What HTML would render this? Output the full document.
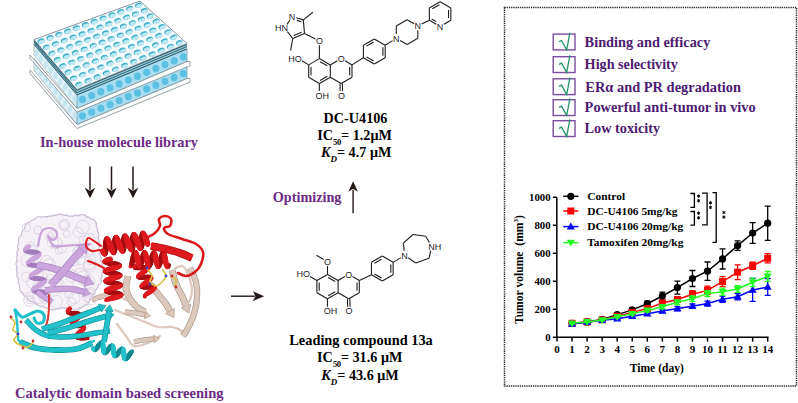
<!DOCTYPE html>
<html><head><meta charset="utf-8"><style>
html,body{margin:0;padding:0;background:#fff;overflow:hidden;}
svg{display:block;}
</style></head><body>
<svg width="798" height="403" viewBox="0 0 798 403">
<rect width="798" height="403" fill="#fff"/>
<polygon points="34.00,58.30 77.00,112.10 77.00,124.50 34.00,70.00" fill="#e2f3f9" stroke="#8a9aa0" stroke-width="0.6"/>
<polygon points="77.00,112.10 187.00,65.70 187.00,78.50 77.00,124.50" fill="#a9ddf1" stroke="#5a8a98" stroke-width="0.6"/>
<ellipse cx="82.50" cy="115.99" rx="3.5" ry="3.70" fill="#5cc0e2"/>
<ellipse cx="91.67" cy="112.14" rx="3.5" ry="3.70" fill="#5cc0e2"/>
<ellipse cx="100.83" cy="108.29" rx="3.5" ry="3.70" fill="#5cc0e2"/>
<ellipse cx="110.00" cy="104.44" rx="3.5" ry="3.70" fill="#5cc0e2"/>
<ellipse cx="119.17" cy="100.59" rx="3.5" ry="3.70" fill="#5cc0e2"/>
<ellipse cx="128.33" cy="96.74" rx="3.5" ry="3.70" fill="#5cc0e2"/>
<ellipse cx="137.50" cy="92.89" rx="3.5" ry="3.70" fill="#5cc0e2"/>
<ellipse cx="146.67" cy="89.04" rx="3.5" ry="3.70" fill="#5cc0e2"/>
<ellipse cx="155.83" cy="85.19" rx="3.5" ry="3.70" fill="#5cc0e2"/>
<ellipse cx="165.00" cy="81.34" rx="3.5" ry="3.70" fill="#5cc0e2"/>
<ellipse cx="174.17" cy="77.49" rx="3.5" ry="3.70" fill="#5cc0e2"/>
<ellipse cx="183.33" cy="73.64" rx="3.5" ry="3.70" fill="#5cc0e2"/>
<ellipse cx="36.39" cy="67.16" rx="2.2" ry="3.52" fill="#c4e6f2"/>
<ellipse cx="41.17" cy="73.17" rx="2.2" ry="3.54" fill="#c4e6f2"/>
<ellipse cx="45.94" cy="79.19" rx="2.2" ry="3.57" fill="#c4e6f2"/>
<ellipse cx="50.72" cy="85.21" rx="2.2" ry="3.59" fill="#c4e6f2"/>
<ellipse cx="55.50" cy="91.22" rx="2.2" ry="3.62" fill="#c4e6f2"/>
<ellipse cx="60.28" cy="97.24" rx="2.2" ry="3.64" fill="#c4e6f2"/>
<ellipse cx="65.06" cy="103.26" rx="2.2" ry="3.66" fill="#c4e6f2"/>
<ellipse cx="69.83" cy="109.28" rx="2.2" ry="3.69" fill="#c4e6f2"/>
<ellipse cx="74.61" cy="115.29" rx="2.2" ry="3.71" fill="#c4e6f2"/>
<polygon points="34.00,44.50 77.00,95.10 77.00,108.50 34.00,55.00" fill="#e2f3f9" stroke="#8a9aa0" stroke-width="0.6"/>
<polygon points="77.00,95.10 187.00,49.10 187.00,61.50 77.00,108.50" fill="#a9ddf1" stroke="#5a8a98" stroke-width="0.6"/>
<ellipse cx="82.50" cy="99.47" rx="3.5" ry="3.70" fill="#5cc0e2"/>
<ellipse cx="91.67" cy="95.60" rx="3.5" ry="3.70" fill="#5cc0e2"/>
<ellipse cx="100.83" cy="91.72" rx="3.5" ry="3.70" fill="#5cc0e2"/>
<ellipse cx="110.00" cy="87.85" rx="3.5" ry="3.70" fill="#5cc0e2"/>
<ellipse cx="119.17" cy="83.97" rx="3.5" ry="3.70" fill="#5cc0e2"/>
<ellipse cx="128.33" cy="80.10" rx="3.5" ry="3.70" fill="#5cc0e2"/>
<ellipse cx="137.50" cy="76.22" rx="3.5" ry="3.70" fill="#5cc0e2"/>
<ellipse cx="146.67" cy="72.35" rx="3.5" ry="3.70" fill="#5cc0e2"/>
<ellipse cx="155.83" cy="68.47" rx="3.5" ry="3.70" fill="#5cc0e2"/>
<ellipse cx="165.00" cy="64.60" rx="3.5" ry="3.70" fill="#5cc0e2"/>
<ellipse cx="174.17" cy="60.73" rx="3.5" ry="3.70" fill="#5cc0e2"/>
<ellipse cx="183.33" cy="56.85" rx="3.5" ry="3.70" fill="#5cc0e2"/>
<ellipse cx="36.39" cy="52.64" rx="2.2" ry="3.20" fill="#c4e6f2"/>
<ellipse cx="41.17" cy="58.42" rx="2.2" ry="3.30" fill="#c4e6f2"/>
<ellipse cx="45.94" cy="64.21" rx="2.2" ry="3.39" fill="#c4e6f2"/>
<ellipse cx="50.72" cy="69.99" rx="2.2" ry="3.49" fill="#c4e6f2"/>
<ellipse cx="55.50" cy="75.78" rx="2.2" ry="3.59" fill="#c4e6f2"/>
<ellipse cx="60.28" cy="81.56" rx="2.2" ry="3.68" fill="#c4e6f2"/>
<ellipse cx="65.06" cy="87.34" rx="2.2" ry="3.78" fill="#c4e6f2"/>
<ellipse cx="69.83" cy="93.12" rx="2.2" ry="3.88" fill="#c4e6f2"/>
<ellipse cx="74.61" cy="98.91" rx="2.2" ry="3.97" fill="#c4e6f2"/>
<polygon points="30.00,55.00 77.00,108.50 187.00,61.50 190.00,61.50 190.00,65.70 77.00,112.10 30.00,58.30" fill="#fcfdfd" stroke="#6f7f86" stroke-width="0.7"/>
<polygon points="30.00,70.00 77.00,124.50 187.00,78.50 190.00,78.50 190.00,82.10 77.00,128.50 30.00,73.50" fill="#fcfdfd" stroke="#6f7f86" stroke-width="0.7"/>
<polygon points="34.00,39.50 77.00,89.50 187.00,43.50 187.00,49.10 77.00,95.10 34.00,44.50" fill="#9fd2e2"/>
<polyline points="34.00,40.05 77.00,90.12 187.00,44.12" fill="none" stroke="#2c5866" stroke-width="1.2"/>
<polyline points="34.00,42.20 77.00,92.52 187.00,46.52" fill="none" stroke="#336e80" stroke-width="1.1"/>
<polyline points="34.00,44.25 77.00,94.82 187.00,48.82" fill="none" stroke="#2c5866" stroke-width="1.0"/>
<polygon points="34.00,39.50 140.00,1.00 187.00,43.50 77.00,89.50" fill="#f3fbfd" stroke="#6d7f86" stroke-width="0.8"/>
<g transform="translate(41.11,41.00) rotate(-20)"><ellipse rx="3.6" ry="2.55" fill="#3fb0ca"/><ellipse cx="0.25" cy="0.85" rx="3.2" ry="1.75" fill="#bfe8f5"/></g>
<g transform="translate(46.51,47.21) rotate(-20)"><ellipse rx="3.6" ry="2.55" fill="#3fb0ca"/><ellipse cx="0.25" cy="0.85" rx="3.2" ry="1.75" fill="#bfe8f5"/></g>
<g transform="translate(51.91,53.42) rotate(-20)"><ellipse rx="3.6" ry="2.55" fill="#3fb0ca"/><ellipse cx="0.25" cy="0.85" rx="3.2" ry="1.75" fill="#bfe8f5"/></g>
<g transform="translate(57.30,59.63) rotate(-20)"><ellipse rx="3.6" ry="2.55" fill="#3fb0ca"/><ellipse cx="0.25" cy="0.85" rx="3.2" ry="1.75" fill="#bfe8f5"/></g>
<g transform="translate(62.70,65.85) rotate(-20)"><ellipse rx="3.6" ry="2.55" fill="#3fb0ca"/><ellipse cx="0.25" cy="0.85" rx="3.2" ry="1.75" fill="#bfe8f5"/></g>
<g transform="translate(68.09,72.06) rotate(-20)"><ellipse rx="3.6" ry="2.55" fill="#3fb0ca"/><ellipse cx="0.25" cy="0.85" rx="3.2" ry="1.75" fill="#bfe8f5"/></g>
<g transform="translate(73.49,78.27) rotate(-20)"><ellipse rx="3.6" ry="2.55" fill="#3fb0ca"/><ellipse cx="0.25" cy="0.85" rx="3.2" ry="1.75" fill="#bfe8f5"/></g>
<g transform="translate(78.89,84.48) rotate(-20)"><ellipse rx="3.6" ry="2.55" fill="#3fb0ca"/><ellipse cx="0.25" cy="0.85" rx="3.2" ry="1.75" fill="#bfe8f5"/></g>
<g transform="translate(49.97,37.75) rotate(-20)"><ellipse rx="3.6" ry="2.55" fill="#3fb0ca"/><ellipse cx="0.25" cy="0.85" rx="3.2" ry="1.75" fill="#bfe8f5"/></g>
<g transform="translate(55.41,43.89) rotate(-20)"><ellipse rx="3.6" ry="2.55" fill="#3fb0ca"/><ellipse cx="0.25" cy="0.85" rx="3.2" ry="1.75" fill="#bfe8f5"/></g>
<g transform="translate(60.84,50.02) rotate(-20)"><ellipse rx="3.6" ry="2.55" fill="#3fb0ca"/><ellipse cx="0.25" cy="0.85" rx="3.2" ry="1.75" fill="#bfe8f5"/></g>
<g transform="translate(66.28,56.15) rotate(-20)"><ellipse rx="3.6" ry="2.55" fill="#3fb0ca"/><ellipse cx="0.25" cy="0.85" rx="3.2" ry="1.75" fill="#bfe8f5"/></g>
<g transform="translate(71.72,62.29) rotate(-20)"><ellipse rx="3.6" ry="2.55" fill="#3fb0ca"/><ellipse cx="0.25" cy="0.85" rx="3.2" ry="1.75" fill="#bfe8f5"/></g>
<g transform="translate(77.16,68.42) rotate(-20)"><ellipse rx="3.6" ry="2.55" fill="#3fb0ca"/><ellipse cx="0.25" cy="0.85" rx="3.2" ry="1.75" fill="#bfe8f5"/></g>
<g transform="translate(82.59,74.55) rotate(-20)"><ellipse rx="3.6" ry="2.55" fill="#3fb0ca"/><ellipse cx="0.25" cy="0.85" rx="3.2" ry="1.75" fill="#bfe8f5"/></g>
<g transform="translate(88.03,80.68) rotate(-20)"><ellipse rx="3.6" ry="2.55" fill="#3fb0ca"/><ellipse cx="0.25" cy="0.85" rx="3.2" ry="1.75" fill="#bfe8f5"/></g>
<g transform="translate(58.82,34.51) rotate(-20)"><ellipse rx="3.6" ry="2.55" fill="#3fb0ca"/><ellipse cx="0.25" cy="0.85" rx="3.2" ry="1.75" fill="#bfe8f5"/></g>
<g transform="translate(64.30,40.56) rotate(-20)"><ellipse rx="3.6" ry="2.55" fill="#3fb0ca"/><ellipse cx="0.25" cy="0.85" rx="3.2" ry="1.75" fill="#bfe8f5"/></g>
<g transform="translate(69.78,46.62) rotate(-20)"><ellipse rx="3.6" ry="2.55" fill="#3fb0ca"/><ellipse cx="0.25" cy="0.85" rx="3.2" ry="1.75" fill="#bfe8f5"/></g>
<g transform="translate(75.26,52.67) rotate(-20)"><ellipse rx="3.6" ry="2.55" fill="#3fb0ca"/><ellipse cx="0.25" cy="0.85" rx="3.2" ry="1.75" fill="#bfe8f5"/></g>
<g transform="translate(80.74,58.73) rotate(-20)"><ellipse rx="3.6" ry="2.55" fill="#3fb0ca"/><ellipse cx="0.25" cy="0.85" rx="3.2" ry="1.75" fill="#bfe8f5"/></g>
<g transform="translate(86.22,64.78) rotate(-20)"><ellipse rx="3.6" ry="2.55" fill="#3fb0ca"/><ellipse cx="0.25" cy="0.85" rx="3.2" ry="1.75" fill="#bfe8f5"/></g>
<g transform="translate(91.70,70.83) rotate(-20)"><ellipse rx="3.6" ry="2.55" fill="#3fb0ca"/><ellipse cx="0.25" cy="0.85" rx="3.2" ry="1.75" fill="#bfe8f5"/></g>
<g transform="translate(97.18,76.89) rotate(-20)"><ellipse rx="3.6" ry="2.55" fill="#3fb0ca"/><ellipse cx="0.25" cy="0.85" rx="3.2" ry="1.75" fill="#bfe8f5"/></g>
<g transform="translate(67.68,31.26) rotate(-20)"><ellipse rx="3.6" ry="2.55" fill="#3fb0ca"/><ellipse cx="0.25" cy="0.85" rx="3.2" ry="1.75" fill="#bfe8f5"/></g>
<g transform="translate(73.20,37.24) rotate(-20)"><ellipse rx="3.6" ry="2.55" fill="#3fb0ca"/><ellipse cx="0.25" cy="0.85" rx="3.2" ry="1.75" fill="#bfe8f5"/></g>
<g transform="translate(78.72,43.21) rotate(-20)"><ellipse rx="3.6" ry="2.55" fill="#3fb0ca"/><ellipse cx="0.25" cy="0.85" rx="3.2" ry="1.75" fill="#bfe8f5"/></g>
<g transform="translate(84.24,49.19) rotate(-20)"><ellipse rx="3.6" ry="2.55" fill="#3fb0ca"/><ellipse cx="0.25" cy="0.85" rx="3.2" ry="1.75" fill="#bfe8f5"/></g>
<g transform="translate(89.76,55.17) rotate(-20)"><ellipse rx="3.6" ry="2.55" fill="#3fb0ca"/><ellipse cx="0.25" cy="0.85" rx="3.2" ry="1.75" fill="#bfe8f5"/></g>
<g transform="translate(95.28,61.14) rotate(-20)"><ellipse rx="3.6" ry="2.55" fill="#3fb0ca"/><ellipse cx="0.25" cy="0.85" rx="3.2" ry="1.75" fill="#bfe8f5"/></g>
<g transform="translate(100.80,67.12) rotate(-20)"><ellipse rx="3.6" ry="2.55" fill="#3fb0ca"/><ellipse cx="0.25" cy="0.85" rx="3.2" ry="1.75" fill="#bfe8f5"/></g>
<g transform="translate(106.32,73.10) rotate(-20)"><ellipse rx="3.6" ry="2.55" fill="#3fb0ca"/><ellipse cx="0.25" cy="0.85" rx="3.2" ry="1.75" fill="#bfe8f5"/></g>
<g transform="translate(76.53,28.01) rotate(-20)"><ellipse rx="3.6" ry="2.55" fill="#3fb0ca"/><ellipse cx="0.25" cy="0.85" rx="3.2" ry="1.75" fill="#bfe8f5"/></g>
<g transform="translate(82.09,33.91) rotate(-20)"><ellipse rx="3.6" ry="2.55" fill="#3fb0ca"/><ellipse cx="0.25" cy="0.85" rx="3.2" ry="1.75" fill="#bfe8f5"/></g>
<g transform="translate(87.66,39.81) rotate(-20)"><ellipse rx="3.6" ry="2.55" fill="#3fb0ca"/><ellipse cx="0.25" cy="0.85" rx="3.2" ry="1.75" fill="#bfe8f5"/></g>
<g transform="translate(93.22,45.71) rotate(-20)"><ellipse rx="3.6" ry="2.55" fill="#3fb0ca"/><ellipse cx="0.25" cy="0.85" rx="3.2" ry="1.75" fill="#bfe8f5"/></g>
<g transform="translate(98.78,51.61) rotate(-20)"><ellipse rx="3.6" ry="2.55" fill="#3fb0ca"/><ellipse cx="0.25" cy="0.85" rx="3.2" ry="1.75" fill="#bfe8f5"/></g>
<g transform="translate(104.34,57.50) rotate(-20)"><ellipse rx="3.6" ry="2.55" fill="#3fb0ca"/><ellipse cx="0.25" cy="0.85" rx="3.2" ry="1.75" fill="#bfe8f5"/></g>
<g transform="translate(109.91,63.40) rotate(-20)"><ellipse rx="3.6" ry="2.55" fill="#3fb0ca"/><ellipse cx="0.25" cy="0.85" rx="3.2" ry="1.75" fill="#bfe8f5"/></g>
<g transform="translate(115.47,69.30) rotate(-20)"><ellipse rx="3.6" ry="2.55" fill="#3fb0ca"/><ellipse cx="0.25" cy="0.85" rx="3.2" ry="1.75" fill="#bfe8f5"/></g>
<g transform="translate(85.39,24.76) rotate(-20)"><ellipse rx="3.6" ry="2.55" fill="#3fb0ca"/><ellipse cx="0.25" cy="0.85" rx="3.2" ry="1.75" fill="#bfe8f5"/></g>
<g transform="translate(90.99,30.58) rotate(-20)"><ellipse rx="3.6" ry="2.55" fill="#3fb0ca"/><ellipse cx="0.25" cy="0.85" rx="3.2" ry="1.75" fill="#bfe8f5"/></g>
<g transform="translate(96.59,36.40) rotate(-20)"><ellipse rx="3.6" ry="2.55" fill="#3fb0ca"/><ellipse cx="0.25" cy="0.85" rx="3.2" ry="1.75" fill="#bfe8f5"/></g>
<g transform="translate(102.20,42.23) rotate(-20)"><ellipse rx="3.6" ry="2.55" fill="#3fb0ca"/><ellipse cx="0.25" cy="0.85" rx="3.2" ry="1.75" fill="#bfe8f5"/></g>
<g transform="translate(107.80,48.05) rotate(-20)"><ellipse rx="3.6" ry="2.55" fill="#3fb0ca"/><ellipse cx="0.25" cy="0.85" rx="3.2" ry="1.75" fill="#bfe8f5"/></g>
<g transform="translate(113.41,53.87) rotate(-20)"><ellipse rx="3.6" ry="2.55" fill="#3fb0ca"/><ellipse cx="0.25" cy="0.85" rx="3.2" ry="1.75" fill="#bfe8f5"/></g>
<g transform="translate(119.01,59.69) rotate(-20)"><ellipse rx="3.6" ry="2.55" fill="#3fb0ca"/><ellipse cx="0.25" cy="0.85" rx="3.2" ry="1.75" fill="#bfe8f5"/></g>
<g transform="translate(124.61,65.51) rotate(-20)"><ellipse rx="3.6" ry="2.55" fill="#3fb0ca"/><ellipse cx="0.25" cy="0.85" rx="3.2" ry="1.75" fill="#bfe8f5"/></g>
<g transform="translate(94.24,21.52) rotate(-20)"><ellipse rx="3.6" ry="2.55" fill="#3fb0ca"/><ellipse cx="0.25" cy="0.85" rx="3.2" ry="1.75" fill="#bfe8f5"/></g>
<g transform="translate(99.89,27.26) rotate(-20)"><ellipse rx="3.6" ry="2.55" fill="#3fb0ca"/><ellipse cx="0.25" cy="0.85" rx="3.2" ry="1.75" fill="#bfe8f5"/></g>
<g transform="translate(105.53,33.00) rotate(-20)"><ellipse rx="3.6" ry="2.55" fill="#3fb0ca"/><ellipse cx="0.25" cy="0.85" rx="3.2" ry="1.75" fill="#bfe8f5"/></g>
<g transform="translate(111.18,38.74) rotate(-20)"><ellipse rx="3.6" ry="2.55" fill="#3fb0ca"/><ellipse cx="0.25" cy="0.85" rx="3.2" ry="1.75" fill="#bfe8f5"/></g>
<g transform="translate(116.82,44.49) rotate(-20)"><ellipse rx="3.6" ry="2.55" fill="#3fb0ca"/><ellipse cx="0.25" cy="0.85" rx="3.2" ry="1.75" fill="#bfe8f5"/></g>
<g transform="translate(122.47,50.23) rotate(-20)"><ellipse rx="3.6" ry="2.55" fill="#3fb0ca"/><ellipse cx="0.25" cy="0.85" rx="3.2" ry="1.75" fill="#bfe8f5"/></g>
<g transform="translate(128.11,55.97) rotate(-20)"><ellipse rx="3.6" ry="2.55" fill="#3fb0ca"/><ellipse cx="0.25" cy="0.85" rx="3.2" ry="1.75" fill="#bfe8f5"/></g>
<g transform="translate(133.76,61.71) rotate(-20)"><ellipse rx="3.6" ry="2.55" fill="#3fb0ca"/><ellipse cx="0.25" cy="0.85" rx="3.2" ry="1.75" fill="#bfe8f5"/></g>
<g transform="translate(103.09,18.27) rotate(-20)"><ellipse rx="3.6" ry="2.55" fill="#3fb0ca"/><ellipse cx="0.25" cy="0.85" rx="3.2" ry="1.75" fill="#bfe8f5"/></g>
<g transform="translate(108.78,23.93) rotate(-20)"><ellipse rx="3.6" ry="2.55" fill="#3fb0ca"/><ellipse cx="0.25" cy="0.85" rx="3.2" ry="1.75" fill="#bfe8f5"/></g>
<g transform="translate(114.47,29.60) rotate(-20)"><ellipse rx="3.6" ry="2.55" fill="#3fb0ca"/><ellipse cx="0.25" cy="0.85" rx="3.2" ry="1.75" fill="#bfe8f5"/></g>
<g transform="translate(120.16,35.26) rotate(-20)"><ellipse rx="3.6" ry="2.55" fill="#3fb0ca"/><ellipse cx="0.25" cy="0.85" rx="3.2" ry="1.75" fill="#bfe8f5"/></g>
<g transform="translate(125.84,40.93) rotate(-20)"><ellipse rx="3.6" ry="2.55" fill="#3fb0ca"/><ellipse cx="0.25" cy="0.85" rx="3.2" ry="1.75" fill="#bfe8f5"/></g>
<g transform="translate(131.53,46.59) rotate(-20)"><ellipse rx="3.6" ry="2.55" fill="#3fb0ca"/><ellipse cx="0.25" cy="0.85" rx="3.2" ry="1.75" fill="#bfe8f5"/></g>
<g transform="translate(137.22,52.25) rotate(-20)"><ellipse rx="3.6" ry="2.55" fill="#3fb0ca"/><ellipse cx="0.25" cy="0.85" rx="3.2" ry="1.75" fill="#bfe8f5"/></g>
<g transform="translate(142.91,57.92) rotate(-20)"><ellipse rx="3.6" ry="2.55" fill="#3fb0ca"/><ellipse cx="0.25" cy="0.85" rx="3.2" ry="1.75" fill="#bfe8f5"/></g>
<g transform="translate(111.95,15.02) rotate(-20)"><ellipse rx="3.6" ry="2.55" fill="#3fb0ca"/><ellipse cx="0.25" cy="0.85" rx="3.2" ry="1.75" fill="#bfe8f5"/></g>
<g transform="translate(117.68,20.61) rotate(-20)"><ellipse rx="3.6" ry="2.55" fill="#3fb0ca"/><ellipse cx="0.25" cy="0.85" rx="3.2" ry="1.75" fill="#bfe8f5"/></g>
<g transform="translate(123.41,26.19) rotate(-20)"><ellipse rx="3.6" ry="2.55" fill="#3fb0ca"/><ellipse cx="0.25" cy="0.85" rx="3.2" ry="1.75" fill="#bfe8f5"/></g>
<g transform="translate(129.14,31.78) rotate(-20)"><ellipse rx="3.6" ry="2.55" fill="#3fb0ca"/><ellipse cx="0.25" cy="0.85" rx="3.2" ry="1.75" fill="#bfe8f5"/></g>
<g transform="translate(134.86,37.37) rotate(-20)"><ellipse rx="3.6" ry="2.55" fill="#3fb0ca"/><ellipse cx="0.25" cy="0.85" rx="3.2" ry="1.75" fill="#bfe8f5"/></g>
<g transform="translate(140.59,42.95) rotate(-20)"><ellipse rx="3.6" ry="2.55" fill="#3fb0ca"/><ellipse cx="0.25" cy="0.85" rx="3.2" ry="1.75" fill="#bfe8f5"/></g>
<g transform="translate(146.32,48.54) rotate(-20)"><ellipse rx="3.6" ry="2.55" fill="#3fb0ca"/><ellipse cx="0.25" cy="0.85" rx="3.2" ry="1.75" fill="#bfe8f5"/></g>
<g transform="translate(152.05,54.12) rotate(-20)"><ellipse rx="3.6" ry="2.55" fill="#3fb0ca"/><ellipse cx="0.25" cy="0.85" rx="3.2" ry="1.75" fill="#bfe8f5"/></g>
<g transform="translate(120.80,11.77) rotate(-20)"><ellipse rx="3.6" ry="2.55" fill="#3fb0ca"/><ellipse cx="0.25" cy="0.85" rx="3.2" ry="1.75" fill="#bfe8f5"/></g>
<g transform="translate(126.57,17.28) rotate(-20)"><ellipse rx="3.6" ry="2.55" fill="#3fb0ca"/><ellipse cx="0.25" cy="0.85" rx="3.2" ry="1.75" fill="#bfe8f5"/></g>
<g transform="translate(132.34,22.79) rotate(-20)"><ellipse rx="3.6" ry="2.55" fill="#3fb0ca"/><ellipse cx="0.25" cy="0.85" rx="3.2" ry="1.75" fill="#bfe8f5"/></g>
<g transform="translate(138.11,28.30) rotate(-20)"><ellipse rx="3.6" ry="2.55" fill="#3fb0ca"/><ellipse cx="0.25" cy="0.85" rx="3.2" ry="1.75" fill="#bfe8f5"/></g>
<g transform="translate(143.89,33.81) rotate(-20)"><ellipse rx="3.6" ry="2.55" fill="#3fb0ca"/><ellipse cx="0.25" cy="0.85" rx="3.2" ry="1.75" fill="#bfe8f5"/></g>
<g transform="translate(149.66,39.31) rotate(-20)"><ellipse rx="3.6" ry="2.55" fill="#3fb0ca"/><ellipse cx="0.25" cy="0.85" rx="3.2" ry="1.75" fill="#bfe8f5"/></g>
<g transform="translate(155.43,44.82) rotate(-20)"><ellipse rx="3.6" ry="2.55" fill="#3fb0ca"/><ellipse cx="0.25" cy="0.85" rx="3.2" ry="1.75" fill="#bfe8f5"/></g>
<g transform="translate(161.20,50.33) rotate(-20)"><ellipse rx="3.6" ry="2.55" fill="#3fb0ca"/><ellipse cx="0.25" cy="0.85" rx="3.2" ry="1.75" fill="#bfe8f5"/></g>
<g transform="translate(129.66,8.53) rotate(-20)"><ellipse rx="3.6" ry="2.55" fill="#3fb0ca"/><ellipse cx="0.25" cy="0.85" rx="3.2" ry="1.75" fill="#bfe8f5"/></g>
<g transform="translate(135.47,13.96) rotate(-20)"><ellipse rx="3.6" ry="2.55" fill="#3fb0ca"/><ellipse cx="0.25" cy="0.85" rx="3.2" ry="1.75" fill="#bfe8f5"/></g>
<g transform="translate(141.28,19.39) rotate(-20)"><ellipse rx="3.6" ry="2.55" fill="#3fb0ca"/><ellipse cx="0.25" cy="0.85" rx="3.2" ry="1.75" fill="#bfe8f5"/></g>
<g transform="translate(147.09,24.82) rotate(-20)"><ellipse rx="3.6" ry="2.55" fill="#3fb0ca"/><ellipse cx="0.25" cy="0.85" rx="3.2" ry="1.75" fill="#bfe8f5"/></g>
<g transform="translate(152.91,30.25) rotate(-20)"><ellipse rx="3.6" ry="2.55" fill="#3fb0ca"/><ellipse cx="0.25" cy="0.85" rx="3.2" ry="1.75" fill="#bfe8f5"/></g>
<g transform="translate(158.72,35.68) rotate(-20)"><ellipse rx="3.6" ry="2.55" fill="#3fb0ca"/><ellipse cx="0.25" cy="0.85" rx="3.2" ry="1.75" fill="#bfe8f5"/></g>
<g transform="translate(164.53,41.11) rotate(-20)"><ellipse rx="3.6" ry="2.55" fill="#3fb0ca"/><ellipse cx="0.25" cy="0.85" rx="3.2" ry="1.75" fill="#bfe8f5"/></g>
<g transform="translate(170.34,46.54) rotate(-20)"><ellipse rx="3.6" ry="2.55" fill="#3fb0ca"/><ellipse cx="0.25" cy="0.85" rx="3.2" ry="1.75" fill="#bfe8f5"/></g>
<g transform="translate(138.51,5.28) rotate(-20)"><ellipse rx="3.6" ry="2.55" fill="#3fb0ca"/><ellipse cx="0.25" cy="0.85" rx="3.2" ry="1.75" fill="#bfe8f5"/></g>
<g transform="translate(144.36,10.63) rotate(-20)"><ellipse rx="3.6" ry="2.55" fill="#3fb0ca"/><ellipse cx="0.25" cy="0.85" rx="3.2" ry="1.75" fill="#bfe8f5"/></g>
<g transform="translate(150.22,15.98) rotate(-20)"><ellipse rx="3.6" ry="2.55" fill="#3fb0ca"/><ellipse cx="0.25" cy="0.85" rx="3.2" ry="1.75" fill="#bfe8f5"/></g>
<g transform="translate(156.07,21.33) rotate(-20)"><ellipse rx="3.6" ry="2.55" fill="#3fb0ca"/><ellipse cx="0.25" cy="0.85" rx="3.2" ry="1.75" fill="#bfe8f5"/></g>
<g transform="translate(161.93,26.69) rotate(-20)"><ellipse rx="3.6" ry="2.55" fill="#3fb0ca"/><ellipse cx="0.25" cy="0.85" rx="3.2" ry="1.75" fill="#bfe8f5"/></g>
<g transform="translate(167.78,32.04) rotate(-20)"><ellipse rx="3.6" ry="2.55" fill="#3fb0ca"/><ellipse cx="0.25" cy="0.85" rx="3.2" ry="1.75" fill="#bfe8f5"/></g>
<g transform="translate(173.64,37.39) rotate(-20)"><ellipse rx="3.6" ry="2.55" fill="#3fb0ca"/><ellipse cx="0.25" cy="0.85" rx="3.2" ry="1.75" fill="#bfe8f5"/></g>
<g transform="translate(179.49,42.74) rotate(-20)"><ellipse rx="3.6" ry="2.55" fill="#3fb0ca"/><ellipse cx="0.25" cy="0.85" rx="3.2" ry="1.75" fill="#bfe8f5"/></g>
<text x="40" y="147" font-size="13.7" fill="#6c2a86" text-anchor="start" textLength="158" lengthAdjust="spacingAndGlyphs" style="font-family:'Liberation Serif',serif;font-weight:bold" >In-house molecule library</text>
<line x1="90" y1="166.5" x2="90" y2="189.8" stroke="#231815" stroke-width="1.5"/>
<path d="M90,198.3 L84.8,187.8 L90,190.8 L95.2,187.8Z" fill="#231815"/>
<line x1="111.5" y1="166.5" x2="111.5" y2="189.8" stroke="#231815" stroke-width="1.5"/>
<path d="M111.5,198.3 L106.3,187.8 L111.5,190.8 L116.7,187.8Z" fill="#231815"/>
<line x1="133" y1="166.5" x2="133" y2="189.8" stroke="#231815" stroke-width="1.5"/>
<path d="M133,198.3 L127.8,187.8 L133,190.8 L138.2,187.8Z" fill="#231815"/>
<path d="M117.00,324.00 C118.50,326.00 123.17,332.33 126.00,336.00 C128.83,339.67 130.33,344.83 134.00,346.00 C137.67,347.17 143.67,344.67 148.00,343.00 C152.33,341.33 158.00,337.17 160.00,336.00" fill="none" stroke="#dcc8bc" stroke-width="2.2" stroke-linecap="round" stroke-linejoin="round" opacity="1"/>
<path d="M115.00,310.00 C117.50,311.00 125.00,314.00 130.00,316.00 C135.00,318.00 140.33,320.17 145.00,322.00 C149.67,323.83 153.50,326.17 158.00,327.00 C162.50,327.83 168.33,326.50 172.00,327.00 C175.67,327.50 177.83,328.67 180.00,330.00 C182.17,331.33 184.17,334.17 185.00,335.00" fill="none" stroke="#dcc8bc" stroke-width="2.2" stroke-linecap="round" stroke-linejoin="round" opacity="1"/>
<path d="M128.00,276.00 C127.67,278.00 125.67,284.17 126.00,288.00 C126.33,291.83 128.00,295.67 130.00,299.00 C132.00,302.33 135.50,305.83 138.00,308.00 C140.50,310.17 143.83,311.33 145.00,312.00" fill="none" stroke="#a89080" stroke-width="6.7" stroke-linecap="butt" stroke-linejoin="round" opacity="1"/>
<path d="M128.00,276.00 C127.67,278.00 125.67,284.17 126.00,288.00 C126.33,291.83 128.00,295.67 130.00,299.00 C132.00,302.33 135.50,305.83 138.00,308.00 C140.50,310.17 143.83,311.33 145.00,312.00" fill="none" stroke="#dcc8bc" stroke-width="5.5" stroke-linecap="butt" stroke-linejoin="round" opacity="1"/>
<path d="M150.00,284.00 C151.33,285.67 155.33,290.67 158.00,294.00 C160.67,297.33 164.00,301.17 166.00,304.00 C168.00,306.83 169.33,309.83 170.00,311.00" fill="none" stroke="#a89080" stroke-width="6.7" stroke-linecap="butt" stroke-linejoin="round" opacity="1"/>
<path d="M150.00,284.00 C151.33,285.67 155.33,290.67 158.00,294.00 C160.67,297.33 164.00,301.17 166.00,304.00 C168.00,306.83 169.33,309.83 170.00,311.00" fill="none" stroke="#dcc8bc" stroke-width="5.5" stroke-linecap="butt" stroke-linejoin="round" opacity="1"/>
<path d="M165.46,313.59 L173.82,317.69 L174.54,308.41Z" fill="#dcc8bc" stroke="#a89080" stroke-width="0.6" opacity="1"/>
<path d="M172.00,270.00 C172.67,272.33 174.33,279.67 176.00,284.00 C177.67,288.33 180.33,292.33 182.00,296.00 C183.67,299.67 185.33,304.33 186.00,306.00" fill="none" stroke="#a89080" stroke-width="6.7" stroke-linecap="butt" stroke-linejoin="round" opacity="1"/>
<path d="M172.00,270.00 C172.67,272.33 174.33,279.67 176.00,284.00 C177.67,288.33 180.33,292.33 182.00,296.00 C183.67,299.67 185.33,304.33 186.00,306.00" fill="none" stroke="#dcc8bc" stroke-width="5.5" stroke-linecap="butt" stroke-linejoin="round" opacity="1"/>
<path d="M181.15,307.94 L188.86,313.15 L190.85,304.06Z" fill="#dcc8bc" stroke="#a89080" stroke-width="0.6" opacity="1"/>
<path d="M186.00,306.00 C186.67,305.00 189.00,302.67 190.00,300.00 C191.00,297.33 192.00,293.33 192.00,290.00 C192.00,286.67 191.00,283.33 190.00,280.00 C189.00,276.67 187.33,272.33 186.00,270.00 C184.67,267.67 183.67,266.33 182.00,266.00 C180.33,265.67 177.67,267.00 176.00,268.00 C174.33,269.00 172.67,271.33 172.00,272.00" fill="none" stroke="#dcc8bc" stroke-width="2.2" stroke-linecap="round" stroke-linejoin="round" opacity="1"/>
<path d="M190.00,268.00 C191.00,270.33 194.83,277.00 196.00,282.00 C197.17,287.00 197.33,292.67 197.00,298.00 C196.67,303.33 195.50,309.00 194.00,314.00 C192.50,319.00 189.83,324.33 188.00,328.00 C186.17,331.67 183.83,334.67 183.00,336.00" fill="none" stroke="#a89080" stroke-width="6.2" stroke-linecap="butt" stroke-linejoin="round" opacity="1"/>
<path d="M190.00,268.00 C191.00,270.33 194.83,277.00 196.00,282.00 C197.17,287.00 197.33,292.67 197.00,298.00 C196.67,303.33 195.50,309.00 194.00,314.00 C192.50,319.00 189.83,324.33 188.00,328.00 C186.17,331.67 183.83,334.67 183.00,336.00" fill="none" stroke="#dcc8bc" stroke-width="5.0" stroke-linecap="butt" stroke-linejoin="round" opacity="1"/>
<path d="M125.00,312.00 C126.67,312.17 131.67,312.50 135.00,313.00 C138.33,313.50 143.33,314.67 145.00,315.00" fill="none" stroke="#a89080" stroke-width="5.2" stroke-linecap="butt" stroke-linejoin="round" opacity="1"/>
<path d="M125.00,312.00 C126.67,312.17 131.67,312.50 135.00,313.00 C138.33,313.50 143.33,314.67 145.00,315.00" fill="none" stroke="#dcc8bc" stroke-width="4.0" stroke-linecap="butt" stroke-linejoin="round" opacity="1"/>
<path d="M144.25,318.73 L150.49,316.10 L145.75,311.27Z" fill="#dcc8bc" stroke="#a89080" stroke-width="0.6" opacity="1"/>
<path d="M134.00,342.00 C135.67,341.67 140.67,340.50 144.00,340.00 C147.33,339.50 152.33,339.17 154.00,339.00" fill="none" stroke="#a89080" stroke-width="5.2" stroke-linecap="butt" stroke-linejoin="round" opacity="1"/>
<path d="M134.00,342.00 C135.67,341.67 140.67,340.50 144.00,340.00 C147.33,339.50 152.33,339.17 154.00,339.00" fill="none" stroke="#dcc8bc" stroke-width="4.0" stroke-linecap="butt" stroke-linejoin="round" opacity="1"/>
<path d="M154.38,342.78 L159.57,338.44 L153.62,335.22Z" fill="#dcc8bc" stroke="#a89080" stroke-width="0.6" opacity="1"/>
<path d="M108.00,296.00 C109.67,296.00 115.00,295.33 118.00,296.00 C121.00,296.67 124.67,299.33 126.00,300.00" fill="none" stroke="#dcc8bc" stroke-width="2.2" stroke-linecap="round" stroke-linejoin="round" opacity="1"/>
<path d="M92.00,300.00 C94.00,299.33 100.00,296.50 104.00,296.00 C108.00,295.50 114.00,296.83 116.00,297.00" fill="none" stroke="#a89080" stroke-width="5.2" stroke-linecap="butt" stroke-linejoin="round" opacity="1"/>
<path d="M92.00,300.00 C94.00,299.33 100.00,296.50 104.00,296.00 C108.00,295.50 114.00,296.83 116.00,297.00" fill="none" stroke="#dcc8bc" stroke-width="4.0" stroke-linecap="butt" stroke-linejoin="round" opacity="1"/>
<g fill="#f5f1f7" stroke="#cdbfd5" stroke-width="1.3">
<circle cx="22.3" cy="252.8" r="5.4"/>
<circle cx="23.3" cy="246.5" r="5.6"/>
<circle cx="24.6" cy="240.4" r="6.3"/>
<circle cx="27.0" cy="233.8" r="5.4"/>
<circle cx="30.2" cy="227.7" r="5.5"/>
<circle cx="34.9" cy="225.1" r="5.7"/>
<circle cx="39.2" cy="221.6" r="4.9"/>
<circle cx="45.1" cy="221.9" r="5.5"/>
<circle cx="50.7" cy="221.7" r="5.8"/>
<circle cx="55.3" cy="221.1" r="6.1"/>
<circle cx="59.9" cy="218.7" r="4.7"/>
<circle cx="65.5" cy="220.1" r="5.1"/>
<circle cx="71.2" cy="220.6" r="4.7"/>
<circle cx="76.3" cy="221.3" r="6.1"/>
<circle cx="82.1" cy="220.4" r="5.9"/>
<circle cx="87.0" cy="221.6" r="4.6"/>
<circle cx="90.1" cy="225.4" r="6.5"/>
<circle cx="91.3" cy="230.5" r="6.4"/>
<circle cx="93.0" cy="235.3" r="5.8"/>
<circle cx="93.3" cy="241.4" r="5.7"/>
<circle cx="94.4" cy="247.1" r="4.8"/>
<circle cx="95.5" cy="252.6" r="4.5"/>
<circle cx="95.5" cy="258.3" r="5.6"/>
<circle cx="97.4" cy="263.9" r="4.6"/>
<circle cx="98.2" cy="269.5" r="4.9"/>
<circle cx="97.2" cy="275.1" r="5.0"/>
<circle cx="96.7" cy="280.9" r="4.6"/>
<circle cx="92.7" cy="285.6" r="5.4"/>
<circle cx="89.5" cy="290.7" r="5.4"/>
<circle cx="86.3" cy="294.8" r="6.2"/>
<circle cx="84.0" cy="300.1" r="5.5"/>
<circle cx="79.2" cy="302.2" r="5.8"/>
<circle cx="74.7" cy="304.7" r="5.5"/>
<circle cx="69.0" cy="303.3" r="5.8"/>
<circle cx="63.5" cy="302.6" r="5.4"/>
<circle cx="58.0" cy="303.9" r="5.1"/>
<circle cx="52.6" cy="303.5" r="6.5"/>
<circle cx="47.2" cy="301.7" r="6.5"/>
<circle cx="41.6" cy="300.2" r="6.2"/>
<circle cx="37.0" cy="298.1" r="5.9"/>
<circle cx="31.9" cy="296.5" r="5.1"/>
<circle cx="28.1" cy="292.4" r="5.0"/>
<circle cx="24.4" cy="288.1" r="5.1"/>
<circle cx="22.8" cy="281.7" r="4.6"/>
<circle cx="22.8" cy="274.6" r="6.0"/>
<circle cx="21.7" cy="269.3" r="5.3"/>
<circle cx="22.2" cy="263.8" r="6.2"/>
<circle cx="21.8" cy="258.3" r="5.3"/>
</g>
<path d="M19.00,252.00 C19.50,247.67 19.50,242.50 21.00,238.00 C22.50,233.50 25.17,228.17 28.00,225.00 C30.83,221.83 34.33,220.17 38.00,219.00 C41.67,217.83 46.33,218.50 50.00,218.00 C53.67,217.50 56.33,216.00 60.00,216.00 C63.67,216.00 68.00,217.83 72.00,218.00 C76.00,218.17 80.50,216.33 84.00,217.00 C87.50,217.67 91.00,219.33 93.00,222.00 C95.00,224.67 95.33,229.00 96.00,233.00 C96.67,237.00 96.50,241.83 97.00,246.00 C97.50,250.17 98.33,254.00 99.00,258.00 C99.67,262.00 101.00,266.00 101.00,270.00 C101.00,274.00 100.50,278.17 99.00,282.00 C97.50,285.83 94.17,289.50 92.00,293.00 C89.83,296.50 88.67,300.50 86.00,303.00 C83.33,305.50 79.67,307.50 76.00,308.00 C72.33,308.50 68.00,306.00 64.00,306.00 C60.00,306.00 56.00,308.33 52.00,308.00 C48.00,307.67 43.67,305.50 40.00,304.00 C36.33,302.50 33.00,301.33 30.00,299.00 C27.00,296.67 23.83,293.83 22.00,290.00 C20.17,286.17 19.67,280.33 19.00,276.00 C18.33,271.67 18.00,268.00 18.00,264.00 C18.00,260.00 18.50,256.33 19.00,252.00Z" fill="#f5f1f7" stroke="none"/>
<g fill="#f5f1f7" stroke="none">
<circle cx="22.3" cy="252.8" r="4.4"/>
<circle cx="23.3" cy="246.5" r="4.6"/>
<circle cx="24.6" cy="240.4" r="5.3"/>
<circle cx="27.0" cy="233.8" r="4.4"/>
<circle cx="30.2" cy="227.7" r="4.5"/>
<circle cx="34.9" cy="225.1" r="4.7"/>
<circle cx="39.2" cy="221.6" r="3.9"/>
<circle cx="45.1" cy="221.9" r="4.5"/>
<circle cx="50.7" cy="221.7" r="4.8"/>
<circle cx="55.3" cy="221.1" r="5.1"/>
<circle cx="59.9" cy="218.7" r="3.7"/>
<circle cx="65.5" cy="220.1" r="4.1"/>
<circle cx="71.2" cy="220.6" r="3.7"/>
<circle cx="76.3" cy="221.3" r="5.1"/>
<circle cx="82.1" cy="220.4" r="4.9"/>
<circle cx="87.0" cy="221.6" r="3.6"/>
<circle cx="90.1" cy="225.4" r="5.5"/>
<circle cx="91.3" cy="230.5" r="5.4"/>
<circle cx="93.0" cy="235.3" r="4.8"/>
<circle cx="93.3" cy="241.4" r="4.7"/>
<circle cx="94.4" cy="247.1" r="3.8"/>
<circle cx="95.5" cy="252.6" r="3.5"/>
<circle cx="95.5" cy="258.3" r="4.6"/>
<circle cx="97.4" cy="263.9" r="3.6"/>
<circle cx="98.2" cy="269.5" r="3.9"/>
<circle cx="97.2" cy="275.1" r="4.0"/>
<circle cx="96.7" cy="280.9" r="3.6"/>
<circle cx="92.7" cy="285.6" r="4.4"/>
<circle cx="89.5" cy="290.7" r="4.4"/>
<circle cx="86.3" cy="294.8" r="5.2"/>
<circle cx="84.0" cy="300.1" r="4.5"/>
<circle cx="79.2" cy="302.2" r="4.8"/>
<circle cx="74.7" cy="304.7" r="4.5"/>
<circle cx="69.0" cy="303.3" r="4.8"/>
<circle cx="63.5" cy="302.6" r="4.4"/>
<circle cx="58.0" cy="303.9" r="4.1"/>
<circle cx="52.6" cy="303.5" r="5.5"/>
<circle cx="47.2" cy="301.7" r="5.5"/>
<circle cx="41.6" cy="300.2" r="5.2"/>
<circle cx="37.0" cy="298.1" r="4.9"/>
<circle cx="31.9" cy="296.5" r="4.1"/>
<circle cx="28.1" cy="292.4" r="4.0"/>
<circle cx="24.4" cy="288.1" r="4.1"/>
<circle cx="22.8" cy="281.7" r="3.6"/>
<circle cx="22.8" cy="274.6" r="5.0"/>
<circle cx="21.7" cy="269.3" r="4.3"/>
<circle cx="22.2" cy="263.8" r="5.2"/>
<circle cx="21.8" cy="258.3" r="4.3"/>
</g>
<g fill="none" stroke="#dcd1e2" stroke-width="0.9">
<circle cx="67.1" cy="281.9" r="6.3"/>
<circle cx="88.2" cy="281.7" r="6.7"/>
<circle cx="27.9" cy="260.3" r="6.8"/>
<circle cx="68.8" cy="294.3" r="3.9"/>
<circle cx="57.0" cy="243.2" r="5.4"/>
<circle cx="63.9" cy="225.0" r="4.3"/>
<circle cx="44.4" cy="295.5" r="6.2"/>
<circle cx="36.5" cy="286.2" r="4.0"/>
<circle cx="66.8" cy="233.9" r="3.5"/>
<circle cx="83.5" cy="240.3" r="4.3"/>
<circle cx="90.8" cy="292.0" r="4.5"/>
<circle cx="89.5" cy="266.1" r="5.9"/>
<circle cx="39.5" cy="297.4" r="5.9"/>
<circle cx="89.8" cy="293.7" r="4.5"/>
<circle cx="49.8" cy="236.9" r="4.0"/>
<circle cx="30.3" cy="247.5" r="5.6"/>
<circle cx="26.2" cy="276.9" r="4.7"/>
<circle cx="46.5" cy="287.8" r="5.2"/>
<circle cx="46.8" cy="261.5" r="6.0"/>
<circle cx="29.8" cy="300.1" r="3.6"/>
<circle cx="75.5" cy="289.9" r="3.6"/>
<circle cx="78.0" cy="252.6" r="5.5"/>
<circle cx="26.6" cy="227.6" r="4.1"/>
<circle cx="89.0" cy="239.3" r="6.1"/>
<circle cx="87.4" cy="297.5" r="4.7"/>
<circle cx="49.4" cy="264.9" r="6.2"/>
<circle cx="33.1" cy="282.4" r="6.3"/>
<circle cx="82.7" cy="226.9" r="6.8"/>
<circle cx="32.0" cy="250.6" r="5.6"/>
<circle cx="86.6" cy="250.5" r="6.7"/>
<circle cx="62.0" cy="248.4" r="4.6"/>
<circle cx="37.7" cy="230.1" r="4.0"/>
<circle cx="71.5" cy="301.7" r="4.1"/>
<circle cx="29.2" cy="301.0" r="5.4"/>
<circle cx="52.8" cy="242.5" r="5.6"/>
<circle cx="80.5" cy="259.5" r="5.0"/>
<circle cx="29.7" cy="295.5" r="3.6"/>
<circle cx="58.6" cy="289.4" r="4.0"/>
<circle cx="74.3" cy="298.1" r="5.7"/>
<circle cx="78.0" cy="232.3" r="5.0"/>
<circle cx="35.9" cy="289.9" r="4.5"/>
<circle cx="55.9" cy="301.9" r="6.5"/>
<circle cx="90.4" cy="259.4" r="5.2"/>
<circle cx="74.1" cy="261.4" r="4.5"/>
<circle cx="52.7" cy="235.4" r="4.8"/>
<circle cx="91.2" cy="298.9" r="5.7"/>
<circle cx="59.0" cy="250.4" r="3.8"/>
<circle cx="44.0" cy="285.0" r="6.5"/>
<circle cx="49.8" cy="285.3" r="6.2"/>
<circle cx="71.8" cy="275.8" r="6.2"/>
<circle cx="50.0" cy="278.9" r="4.5"/>
<circle cx="58.1" cy="284.0" r="5.9"/>
<circle cx="45.4" cy="297.8" r="5.8"/>
<circle cx="64.3" cy="224.9" r="5.4"/>
<circle cx="42.5" cy="276.4" r="5.1"/>
<circle cx="79.9" cy="274.5" r="6.3"/>
<circle cx="49.0" cy="274.2" r="6.1"/>
<circle cx="80.7" cy="251.3" r="6.5"/>
<circle cx="83.4" cy="277.7" r="6.9"/>
<circle cx="89.1" cy="264.4" r="5.4"/>
</g>
<path d="M38.00,246.00 C38.33,244.33 39.17,238.67 40.00,236.00 C40.83,233.33 41.50,231.33 43.00,230.00 C44.50,228.67 47.00,228.00 49.00,228.00 C51.00,228.00 53.67,228.67 55.00,230.00 C56.33,231.33 57.33,234.33 57.00,236.00 C56.67,237.67 54.50,240.00 53.00,240.00 C51.50,240.00 48.17,235.33 48.00,236.00 C47.83,236.67 50.33,242.17 52.00,244.00 C53.67,245.83 57.00,246.50 58.00,247.00" fill="none" stroke="#cba5dc" stroke-width="2.2" stroke-linecap="round" stroke-linejoin="round" opacity="1"/>
<path d="M52.00,246.00 C54.00,246.00 60.00,246.17 64.00,246.00 C68.00,245.83 71.67,245.33 76.00,245.00 C80.33,244.67 87.67,244.17 90.00,244.00" fill="none" stroke="#cba5dc" stroke-width="2.2" stroke-linecap="round" stroke-linejoin="round" opacity="1"/>
<g fill="none" stroke="#a47cbd" stroke-linecap="round" opacity="1">
<path d="M24.26,250.35 L24.63,250.76" stroke-width="2.09"/>
<path d="M24.63,250.76 L25.35,251.10" stroke-width="2.83"/>
<path d="M25.35,251.10 L26.39,251.38" stroke-width="3.50"/>
<path d="M26.39,251.38 L27.69,251.60" stroke-width="4.08"/>
<path d="M27.69,251.60 L29.20,251.78" stroke-width="4.53"/>
<path d="M29.20,251.78 L30.86,251.92" stroke-width="4.83"/>
<path d="M30.86,251.92 L32.58,252.05" stroke-width="4.97"/>
<path d="M32.58,252.05 L34.28,252.19" stroke-width="4.94"/>
<path d="M34.28,252.19 L35.89,252.35" stroke-width="4.74"/>
<path d="M35.89,252.35 L37.34,252.54" stroke-width="4.38"/>
<path d="M37.34,252.54 L38.55,252.78" stroke-width="3.88"/>
<path d="M38.55,252.78 L39.47,253.07" stroke-width="3.26"/>
<path d="M39.47,253.07 L40.06,253.44" stroke-width="2.56"/>
<path d="M40.06,253.44 L40.30,253.88" stroke-width="1.81"/>
<path d="M26.99,263.53 L27.25,263.97" stroke-width="1.84"/>
<path d="M27.25,263.97 L27.85,264.33" stroke-width="2.59"/>
<path d="M27.85,264.33 L28.79,264.63" stroke-width="3.29"/>
<path d="M28.79,264.63 L30.01,264.87" stroke-width="3.90"/>
<path d="M30.01,264.87 L31.46,265.05" stroke-width="4.40"/>
<path d="M31.46,265.05 L33.07,265.21" stroke-width="4.75"/>
<path d="M33.07,265.21 L34.78,265.34" stroke-width="4.94"/>
<path d="M34.78,265.34 L36.50,265.48" stroke-width="4.97"/>
<path d="M36.50,265.48 L38.15,265.62" stroke-width="4.82"/>
<path d="M38.15,265.62 L39.66,265.80" stroke-width="4.52"/>
<path d="M39.66,265.80 L40.95,266.02" stroke-width="4.06"/>
<path d="M40.95,266.02 L41.97,266.30" stroke-width="3.48"/>
<path d="M41.97,266.30 L42.68,266.64" stroke-width="2.80"/>
<path d="M42.68,266.64 L43.04,267.06" stroke-width="2.06"/>
<path d="M29.76,276.70 L29.90,277.16" stroke-width="1.58"/>
<path d="M29.90,277.16 L30.39,277.55" stroke-width="2.34"/>
<path d="M30.39,277.55 L31.22,277.87" stroke-width="3.06"/>
<path d="M31.22,277.87 L32.35,278.13" stroke-width="3.71"/>
<path d="M32.35,278.13 L33.73,278.33" stroke-width="4.25"/>
<path d="M33.73,278.33 L35.30,278.49" stroke-width="4.65"/>
<path d="M35.30,278.49 L36.98,278.63" stroke-width="4.90"/>
<path d="M36.98,278.63 L38.71,278.77" stroke-width="4.98"/>
<path d="M38.71,278.77 L40.39,278.91" stroke-width="4.89"/>
<path d="M40.39,278.91 L41.95,279.07" stroke-width="4.64"/>
<path d="M41.95,279.07 L43.32,279.28" stroke-width="4.23"/>
<path d="M43.32,279.28 L44.44,279.53" stroke-width="3.69"/>
<path d="M44.44,279.53 L45.26,279.86" stroke-width="3.04"/>
<path d="M45.26,279.86 L45.74,280.25" stroke-width="2.31"/>
<path d="M45.74,280.25 L45.86,280.71" stroke-width="1.55"/>
<path d="M32.59,290.35 L32.97,290.76" stroke-width="2.09"/>
<path d="M32.97,290.76 L33.69,291.10" stroke-width="2.83"/>
<path d="M33.69,291.10 L34.72,291.38" stroke-width="3.50"/>
<path d="M34.72,291.38 L36.02,291.60" stroke-width="4.08"/>
<path d="M36.02,291.60 L37.54,291.78" stroke-width="4.53"/>
<path d="M37.54,291.78 L39.19,291.92" stroke-width="4.83"/>
<path d="M39.19,291.92 L40.91,292.05" stroke-width="4.97"/>
<path d="M40.91,292.05 L42.62,292.19" stroke-width="4.94"/>
<path d="M42.62,292.19 L44.23,292.35" stroke-width="4.74"/>
<path d="M44.23,292.35 L45.67,292.54" stroke-width="4.38"/>
<path d="M45.67,292.54 L46.88,292.78" stroke-width="3.88"/>
</g>
<g fill="none" stroke="#cba5dc" stroke-linecap="round" opacity="1">
<path d="M28.83,246.45 L27.44,247.23" stroke-width="4.69"/>
<path d="M27.44,247.23 L26.23,247.98" stroke-width="4.31"/>
<path d="M26.23,247.98 L25.26,248.67" stroke-width="3.78"/>
<path d="M25.26,248.67 L24.58,249.30" stroke-width="3.15"/>
<path d="M24.58,249.30 L24.24,249.86" stroke-width="2.44"/>
<path d="M24.24,249.86 L24.26,250.35" stroke-width="1.68"/>
<path d="M40.30,253.88 L40.18,254.40" stroke-width="1.96"/>
<path d="M40.18,254.40 L39.72,254.99" stroke-width="2.71"/>
<path d="M39.72,254.99 L38.93,255.64" stroke-width="3.40"/>
<path d="M38.93,255.64 L37.86,256.36" stroke-width="3.99"/>
<path d="M37.86,256.36 L36.57,257.11" stroke-width="4.47"/>
<path d="M36.57,257.11 L35.13,257.91" stroke-width="4.79"/>
<path d="M35.13,257.91 L33.62,258.71" stroke-width="4.96"/>
<path d="M33.62,258.71 L32.10,259.52" stroke-width="4.96"/>
<path d="M32.10,259.52 L30.66,260.31" stroke-width="4.78"/>
<path d="M30.66,260.31 L29.38,261.07" stroke-width="4.45"/>
<path d="M29.38,261.07 L28.33,261.78" stroke-width="3.97"/>
<path d="M28.33,261.78 L27.55,262.43" stroke-width="3.37"/>
<path d="M27.55,262.43 L27.10,263.02" stroke-width="2.68"/>
<path d="M27.10,263.02 L26.99,263.53" stroke-width="1.93"/>
<path d="M43.04,267.06 L43.04,267.55" stroke-width="1.71"/>
<path d="M43.04,267.55 L42.69,268.12" stroke-width="2.47"/>
<path d="M42.69,268.12 L42.00,268.75" stroke-width="3.18"/>
<path d="M42.00,268.75 L41.02,269.44" stroke-width="3.81"/>
<path d="M41.02,269.44 L39.80,270.19" stroke-width="4.32"/>
<path d="M39.80,270.19 L38.40,270.97" stroke-width="4.70"/>
<path d="M38.40,270.97 L36.90,271.78" stroke-width="4.92"/>
<path d="M36.90,271.78 L35.38,272.58" stroke-width="4.98"/>
<path d="M35.38,272.58 L33.91,273.38" stroke-width="4.86"/>
<path d="M33.91,273.38 L32.57,274.15" stroke-width="4.58"/>
<path d="M32.57,274.15 L31.43,274.88" stroke-width="4.15"/>
<path d="M31.43,274.88 L30.55,275.55" stroke-width="3.58"/>
<path d="M30.55,275.55 L29.99,276.16" stroke-width="2.92"/>
<path d="M29.99,276.16 L29.76,276.70" stroke-width="2.19"/>
<path d="M45.86,280.71 L45.62,281.25" stroke-width="2.22"/>
<path d="M45.62,281.25 L45.04,281.86" stroke-width="2.95"/>
<path d="M45.04,281.86 L44.16,282.54" stroke-width="3.61"/>
<path d="M44.16,282.54 L43.01,283.27" stroke-width="4.17"/>
<path d="M43.01,283.27 L41.66,284.04" stroke-width="4.59"/>
<path d="M41.66,284.04 L40.19,284.84" stroke-width="4.87"/>
<path d="M40.19,284.84 L38.66,285.65" stroke-width="4.98"/>
<path d="M38.66,285.65 L37.16,286.45" stroke-width="4.92"/>
<path d="M37.16,286.45 L35.77,287.23" stroke-width="4.69"/>
<path d="M35.77,287.23 L34.56,287.98" stroke-width="4.31"/>
<path d="M34.56,287.98 L33.59,288.67" stroke-width="3.78"/>
<path d="M33.59,288.67 L32.92,289.30" stroke-width="3.15"/>
<path d="M32.92,289.30 L32.58,289.86" stroke-width="2.44"/>
<path d="M32.58,289.86 L32.59,290.35" stroke-width="1.68"/>
</g>
<path d="M37.00,265.00 C39.50,265.50 47.17,266.67 52.00,268.00 C56.83,269.33 61.67,271.33 66.00,273.00 C70.33,274.67 74.67,276.67 78.00,278.00 C81.33,279.33 84.67,280.50 86.00,281.00" fill="none" stroke="#a47cbd" stroke-width="7.2" stroke-linecap="butt" stroke-linejoin="round" opacity="1"/>
<path d="M37.00,265.00 C39.50,265.50 47.17,266.67 52.00,268.00 C56.83,269.33 61.67,271.33 66.00,273.00 C70.33,274.67 74.67,276.67 78.00,278.00 C81.33,279.33 84.67,280.50 86.00,281.00" fill="none" stroke="#cba5dc" stroke-width="6.0" stroke-linecap="butt" stroke-linejoin="round" opacity="1"/>
<path d="M84.00,286.34 L93.87,283.95 L88.00,275.66Z" fill="#cba5dc" stroke="#a47cbd" stroke-width="0.6" opacity="1"/>
<path d="M45.00,290.00 C47.50,289.83 55.50,289.17 60.00,289.00 C64.50,288.83 68.00,288.50 72.00,289.00 C76.00,289.50 82.00,291.50 84.00,292.00" fill="none" stroke="#a47cbd" stroke-width="6.2" stroke-linecap="butt" stroke-linejoin="round" opacity="1"/>
<path d="M45.00,290.00 C47.50,289.83 55.50,289.17 60.00,289.00 C64.50,288.83 68.00,288.50 72.00,289.00 C76.00,289.50 82.00,291.50 84.00,292.00" fill="none" stroke="#cba5dc" stroke-width="5.0" stroke-linecap="butt" stroke-linejoin="round" opacity="1"/>
<path d="M82.85,296.61 L90.79,293.70 L85.15,287.39Z" fill="#cba5dc" stroke="#a47cbd" stroke-width="0.6" opacity="1"/>
<path d="M51.00,285.00 C52.50,283.33 56.83,278.67 60.00,275.00 C63.17,271.33 67.00,266.50 70.00,263.00 C73.00,259.50 76.00,256.17 78.00,254.00 C80.00,251.83 81.33,250.67 82.00,250.00" fill="none" stroke="#a47cbd" stroke-width="7.7" stroke-linecap="butt" stroke-linejoin="round" opacity="1"/>
<path d="M51.00,285.00 C52.50,283.33 56.83,278.67 60.00,275.00 C63.17,271.33 67.00,266.50 70.00,263.00 C73.00,259.50 76.00,256.17 78.00,254.00 C80.00,251.83 81.33,250.67 82.00,250.00" fill="none" stroke="#cba5dc" stroke-width="6.5" stroke-linecap="butt" stroke-linejoin="round" opacity="1"/>
<path d="M86.37,254.37 L88.43,243.57 L77.63,245.63Z" fill="#cba5dc" stroke="#a47cbd" stroke-width="0.6" opacity="1"/>
<path d="M37.00,292.00 C38.17,292.83 41.50,295.33 44.00,297.00 C46.50,298.67 50.67,301.17 52.00,302.00" fill="none" stroke="#a47cbd" stroke-width="5.7" stroke-linecap="butt" stroke-linejoin="round" opacity="1"/>
<path d="M37.00,292.00 C38.17,292.83 41.50,295.33 44.00,297.00 C46.50,298.67 50.67,301.17 52.00,302.00" fill="none" stroke="#cba5dc" stroke-width="4.5" stroke-linecap="butt" stroke-linejoin="round" opacity="1"/>
<path d="M101.00,246.00 C99.83,245.17 96.17,242.33 94.00,241.00 C91.83,239.67 89.33,237.17 88.00,238.00 C86.67,238.83 85.33,243.83 86.00,246.00 C86.67,248.17 89.67,250.33 92.00,251.00 C94.33,251.67 98.67,250.17 100.00,250.00" fill="none" stroke="#dc1a1e" stroke-width="2.0" stroke-linecap="round" stroke-linejoin="round" opacity="1"/>
<path d="M104.00,268.00 C102.67,267.33 98.67,265.17 96.00,264.00 C93.33,262.83 89.33,261.50 88.00,261.00" fill="none" stroke="#dc1a1e" stroke-width="2.0" stroke-linecap="round" stroke-linejoin="round" opacity="1"/>
<path d="M49.00,295.00 C49.00,296.83 49.17,302.17 49.00,306.00 C48.83,309.83 48.67,314.17 48.00,318.00 C47.33,321.83 45.50,327.17 45.00,329.00" fill="none" stroke="#d83838" stroke-width="2.0" stroke-linecap="round" stroke-linejoin="round" opacity="1"/>
<g fill="none" stroke="#a50c10" stroke-linecap="round" opacity="1">
<path d="M67.08,312.11 L67.28,312.52" stroke-width="1.65"/>
<path d="M67.28,312.52 L67.76,312.84" stroke-width="2.41"/>
<path d="M67.76,312.84 L68.49,313.07" stroke-width="3.12"/>
<path d="M68.49,313.07 L69.45,313.23" stroke-width="3.76"/>
<path d="M69.45,313.23 L70.60,313.32" stroke-width="4.28"/>
<path d="M70.60,313.32 L71.89,313.36" stroke-width="4.67"/>
<path d="M71.89,313.36 L73.26,313.37" stroke-width="4.91"/>
<path d="M73.26,313.37 L74.66,313.37" stroke-width="4.98"/>
<path d="M74.66,313.37 L76.02,313.39" stroke-width="4.88"/>
<path d="M76.02,313.39 L77.29,313.43" stroke-width="4.62"/>
<path d="M77.29,313.43 L78.41,313.53" stroke-width="4.20"/>
<path d="M78.41,313.53 L79.34,313.70" stroke-width="3.66"/>
<path d="M79.34,313.70 L80.03,313.94" stroke-width="3.01"/>
<path d="M80.03,313.94 L80.46,314.28" stroke-width="2.29"/>
<path d="M80.46,314.28 L80.62,314.71" stroke-width="1.53"/>
<path d="M71.39,324.65 L71.74,325.01" stroke-width="2.06"/>
<path d="M71.74,325.01 L72.35,325.29" stroke-width="2.80"/>
<path d="M72.35,325.29 L73.21,325.47" stroke-width="3.48"/>
<path d="M73.21,325.47 L74.28,325.59" stroke-width="4.05"/>
<path d="M74.28,325.59 L75.51,325.65" stroke-width="4.51"/>
<path d="M75.51,325.65 L76.85,325.67" stroke-width="4.82"/>
<path d="M76.85,325.67 L78.24,325.68" stroke-width="4.97"/>
<path d="M78.24,325.68 L79.63,325.68" stroke-width="4.95"/>
<path d="M79.63,325.68 L80.95,325.71" stroke-width="4.76"/>
<path d="M80.95,325.71 L82.15,325.79" stroke-width="4.41"/>
<path d="M82.15,325.79 L83.17,325.92" stroke-width="3.93"/>
<path d="M83.17,325.92 L83.97,326.13" stroke-width="3.32"/>
<path d="M83.97,326.13 L84.52,326.42" stroke-width="2.63"/>
<path d="M84.52,326.42 L84.81,326.81" stroke-width="1.88"/>
<path d="M75.55,336.76 L75.77,337.17" stroke-width="1.71"/>
<path d="M75.77,337.17 L76.27,337.48" stroke-width="2.47"/>
<path d="M76.27,337.48 L77.02,337.70" stroke-width="3.17"/>
<path d="M77.02,337.70 L77.99,337.85" stroke-width="3.80"/>
<path d="M77.99,337.85 L79.15,337.94" stroke-width="4.32"/>
<path d="M79.15,337.94 L80.45,337.97" stroke-width="4.70"/>
<path d="M80.45,337.97 L81.83,337.98" stroke-width="4.92"/>
<path d="M81.83,337.98 L83.23,337.99" stroke-width="4.98"/>
<path d="M83.23,337.99 L84.58,338.00" stroke-width="4.87"/>
<path d="M84.58,338.00 L85.84,338.06" stroke-width="4.59"/>
<path d="M85.84,338.06 L86.95,338.16" stroke-width="4.17"/>
<path d="M86.95,338.16 L87.86,338.33" stroke-width="3.61"/>
</g>
<g fill="none" stroke="#dc1a1e" stroke-linecap="round" opacity="1">
<path d="M69.79,308.76 L68.85,309.57" stroke-width="4.54"/>
<path d="M68.85,309.57 L68.07,310.32" stroke-width="4.09"/>
<path d="M68.07,310.32 L67.49,311.00" stroke-width="3.52"/>
<path d="M67.49,311.00 L67.15,311.60" stroke-width="2.85"/>
<path d="M67.15,311.60 L67.08,312.11" stroke-width="2.11"/>
<path d="M80.62,314.71 L80.50,315.23" stroke-width="2.24"/>
<path d="M80.50,315.23 L80.12,315.84" stroke-width="2.96"/>
<path d="M80.12,315.84 L79.51,316.54" stroke-width="3.62"/>
<path d="M79.51,316.54 L78.70,317.30" stroke-width="4.17"/>
<path d="M78.70,317.30 L77.74,318.12" stroke-width="4.59"/>
<path d="M77.74,318.12 L76.68,318.96" stroke-width="4.87"/>
<path d="M76.68,318.96 L75.58,319.83" stroke-width="4.98"/>
<path d="M75.58,319.83 L74.50,320.68" stroke-width="4.92"/>
<path d="M74.50,320.68 L73.50,321.51" stroke-width="4.69"/>
<path d="M73.50,321.51 L72.64,322.29" stroke-width="4.31"/>
<path d="M72.64,322.29 L71.96,323.00" stroke-width="3.80"/>
<path d="M71.96,323.00 L71.51,323.64" stroke-width="3.17"/>
<path d="M71.51,323.64 L71.31,324.19" stroke-width="2.46"/>
<path d="M71.31,324.19 L71.39,324.65" stroke-width="1.70"/>
<path d="M84.81,326.81 L84.82,327.29" stroke-width="1.89"/>
<path d="M84.82,327.29 L84.56,327.86" stroke-width="2.63"/>
<path d="M84.56,327.86 L84.05,328.52" stroke-width="3.33"/>
<path d="M84.05,328.52 L83.33,329.25" stroke-width="3.93"/>
<path d="M83.33,329.25 L82.43,330.04" stroke-width="4.42"/>
<path d="M82.43,330.04 L81.40,330.88" stroke-width="4.76"/>
<path d="M81.40,330.88 L80.31,331.74" stroke-width="4.95"/>
<path d="M80.31,331.74 L79.22,332.60" stroke-width="4.97"/>
<path d="M79.22,332.60 L78.17,333.44" stroke-width="4.82"/>
<path d="M78.17,333.44 L77.24,334.24" stroke-width="4.51"/>
<path d="M77.24,334.24 L76.48,334.99" stroke-width="4.05"/>
<path d="M76.48,334.99 L75.92,335.67" stroke-width="3.47"/>
<path d="M75.92,335.67 L75.60,336.26" stroke-width="2.79"/>
<path d="M75.60,336.26 L75.55,336.76" stroke-width="2.06"/>
</g>
<g fill="none" stroke="#a50c10" stroke-linecap="round" opacity="1">
<path d="M103.62,261.48 L103.77,261.82" stroke-width="1.92"/>
<path d="M103.77,261.82 L104.33,262.14" stroke-width="2.75"/>
<path d="M104.33,262.14 L105.27,262.44" stroke-width="3.53"/>
<path d="M105.27,262.44 L106.54,262.72" stroke-width="4.22"/>
<path d="M106.54,262.72 L108.10,262.99" stroke-width="4.78"/>
<path d="M108.10,262.99 L109.85,263.25" stroke-width="5.19"/>
<path d="M109.85,263.25 L111.72,263.50" stroke-width="5.42"/>
<path d="M111.72,263.50 L113.61,263.76" stroke-width="5.47"/>
<path d="M113.61,263.76 L115.44,264.01" stroke-width="5.33"/>
<path d="M115.44,264.01 L117.11,264.28" stroke-width="5.02"/>
<path d="M117.11,264.28 L118.54,264.55" stroke-width="4.53"/>
<path d="M118.54,264.55 L119.67,264.84" stroke-width="3.91"/>
<path d="M119.67,264.84 L120.43,265.15" stroke-width="3.17"/>
<path d="M120.43,265.15 L120.80,265.48" stroke-width="2.37"/>
<path d="M104.15,271.47 L104.57,271.80" stroke-width="2.48"/>
<path d="M104.57,271.80 L105.39,272.10" stroke-width="3.28"/>
<path d="M105.39,272.10 L106.56,272.39" stroke-width="4.00"/>
<path d="M106.56,272.39 L108.03,272.66" stroke-width="4.61"/>
<path d="M108.03,272.66 L109.73,272.93" stroke-width="5.07"/>
<path d="M109.73,272.93 L111.57,273.18" stroke-width="5.36"/>
<path d="M111.57,273.18 L113.46,273.43" stroke-width="5.48"/>
<path d="M113.46,273.43 L115.32,273.69" stroke-width="5.40"/>
<path d="M115.32,273.69 L117.05,273.95" stroke-width="5.14"/>
<path d="M117.05,273.95 L118.57,274.22" stroke-width="4.71"/>
<path d="M118.57,274.22 L119.81,274.51" stroke-width="4.13"/>
<path d="M119.81,274.51 L120.70,274.81" stroke-width="3.43"/>
<path d="M120.70,274.81 L121.20,275.13" stroke-width="2.64"/>
<path d="M121.20,275.13 L121.29,275.47" stroke-width="1.80"/>
<path d="M104.57,281.12 L104.86,281.45" stroke-width="2.20"/>
<path d="M104.86,281.45 L105.55,281.76" stroke-width="3.02"/>
<path d="M105.55,281.76 L106.61,282.06" stroke-width="3.77"/>
<path d="M106.61,282.06 L107.99,282.33" stroke-width="4.42"/>
<path d="M107.99,282.33 L109.62,282.60" stroke-width="4.93"/>
<path d="M109.62,282.60 L111.42,282.86" stroke-width="5.29"/>
<path d="M111.42,282.86 L113.31,283.11" stroke-width="5.46"/>
<path d="M113.31,283.11 L115.19,283.36" stroke-width="5.45"/>
<path d="M115.19,283.36 L116.97,283.62" stroke-width="5.25"/>
<path d="M116.97,283.62 L118.57,283.89" stroke-width="4.87"/>
<path d="M118.57,283.89 L119.91,284.17" stroke-width="4.34"/>
<path d="M119.91,284.17 L120.92,284.47" stroke-width="3.67"/>
<path d="M120.92,284.47 L121.55,284.78" stroke-width="2.91"/>
<path d="M121.55,284.78 L121.78,285.12" stroke-width="2.09"/>
<path d="M105.05,290.77 L105.20,291.10" stroke-width="1.92"/>
<path d="M105.20,291.10 L105.75,291.42" stroke-width="2.75"/>
<path d="M105.75,291.42 L106.70,291.72" stroke-width="3.53"/>
<path d="M106.70,291.72 L107.97,292.01" stroke-width="4.22"/>
<path d="M107.97,292.01 L109.53,292.27" stroke-width="4.78"/>
<path d="M109.53,292.27 L111.28,292.53" stroke-width="5.19"/>
<path d="M111.28,292.53 L113.15,292.79" stroke-width="5.42"/>
<path d="M113.15,292.79 L115.04,293.04" stroke-width="5.47"/>
<path d="M115.04,293.04 L116.87,293.30" stroke-width="5.33"/>
<path d="M116.87,293.30 L118.54,293.56" stroke-width="5.02"/>
<path d="M118.54,293.56 L119.97,293.84" stroke-width="4.53"/>
<path d="M119.97,293.84 L121.10,294.13" stroke-width="3.91"/>
<path d="M121.10,294.13 L121.86,294.44" stroke-width="3.17"/>
<path d="M121.86,294.44 L122.23,294.76" stroke-width="2.37"/>
</g>
<g fill="none" stroke="#dc1a1e" stroke-linecap="round" opacity="1">
<path d="M110.31,259.08 L108.54,259.51" stroke-width="5.29"/>
<path d="M108.54,259.51 L106.94,259.94" stroke-width="4.95"/>
<path d="M106.94,259.94 L105.59,260.35" stroke-width="4.44"/>
<path d="M105.59,260.35 L104.55,260.74" stroke-width="3.79"/>
<path d="M104.55,260.74 L103.88,261.12" stroke-width="3.04"/>
<path d="M103.88,261.12 L103.62,261.48" stroke-width="2.23"/>
<path d="M120.80,265.48 L120.75,265.83" stroke-width="1.78"/>
<path d="M120.75,265.83 L120.30,266.19" stroke-width="2.62"/>
<path d="M120.30,266.19 L119.45,266.58" stroke-width="3.41"/>
<path d="M119.45,266.58 L118.26,266.98" stroke-width="4.11"/>
<path d="M118.26,266.98 L116.78,267.40" stroke-width="4.70"/>
<path d="M116.78,267.40 L115.09,267.83" stroke-width="5.13"/>
<path d="M115.09,267.83 L113.26,268.26" stroke-width="5.40"/>
<path d="M113.26,268.26 L111.40,268.70" stroke-width="5.48"/>
<path d="M111.40,268.70 L109.59,269.13" stroke-width="5.37"/>
<path d="M109.59,269.13 L107.93,269.56" stroke-width="5.08"/>
<path d="M107.93,269.56 L106.48,269.98" stroke-width="4.62"/>
<path d="M106.48,269.98 L105.33,270.38" stroke-width="4.02"/>
<path d="M105.33,270.38 L104.54,270.76" stroke-width="3.30"/>
<path d="M104.54,270.76 L104.14,271.13" stroke-width="2.50"/>
<path d="M104.14,271.13 L104.15,271.47" stroke-width="1.66"/>
<path d="M121.29,275.47 L120.97,275.83" stroke-width="2.34"/>
<path d="M120.97,275.83 L120.25,276.21" stroke-width="3.15"/>
<path d="M120.25,276.21 L119.17,276.61" stroke-width="3.89"/>
<path d="M119.17,276.61 L117.78,277.02" stroke-width="4.52"/>
<path d="M117.78,277.02 L116.15,277.45" stroke-width="5.00"/>
<path d="M116.15,277.45 L114.36,277.88" stroke-width="5.33"/>
<path d="M114.36,277.88 L112.50,278.32" stroke-width="5.47"/>
<path d="M112.50,278.32 L110.66,278.75" stroke-width="5.43"/>
<path d="M110.66,278.75 L108.94,279.18" stroke-width="5.20"/>
<path d="M108.94,279.18 L107.41,279.60" stroke-width="4.79"/>
<path d="M107.41,279.60 L106.16,280.01" stroke-width="4.24"/>
<path d="M106.16,280.01 L105.24,280.40" stroke-width="3.55"/>
<path d="M105.24,280.40 L104.70,280.77" stroke-width="2.78"/>
<path d="M104.70,280.77 L104.57,281.12" stroke-width="1.95"/>
<path d="M121.78,285.12 L121.60,285.47" stroke-width="2.06"/>
<path d="M121.60,285.47 L121.01,285.84" stroke-width="2.89"/>
<path d="M121.01,285.84 L120.04,286.24" stroke-width="3.65"/>
<path d="M120.04,286.24 L118.75,286.64" stroke-width="4.32"/>
<path d="M118.75,286.64 L117.19,287.07" stroke-width="4.86"/>
<path d="M117.19,287.07 L115.44,287.50" stroke-width="5.24"/>
<path d="M115.44,287.50 L113.60,287.93" stroke-width="5.44"/>
<path d="M113.60,287.93 L111.74,288.37" stroke-width="5.46"/>
<path d="M111.74,288.37 L109.97,288.80" stroke-width="5.29"/>
<path d="M109.97,288.80 L108.37,289.22" stroke-width="4.95"/>
<path d="M108.37,289.22 L107.02,289.63" stroke-width="4.44"/>
<path d="M107.02,289.63 L105.98,290.03" stroke-width="3.79"/>
<path d="M105.98,290.03 L105.31,290.41" stroke-width="3.04"/>
<path d="M105.31,290.41 L105.05,290.77" stroke-width="2.23"/>
<path d="M122.23,294.76 L122.18,295.11" stroke-width="1.78"/>
<path d="M122.18,295.11 L121.72,295.48" stroke-width="2.62"/>
<path d="M121.72,295.48 L120.88,295.87" stroke-width="3.41"/>
<path d="M120.88,295.87 L119.69,296.27" stroke-width="4.11"/>
<path d="M119.69,296.27 L118.21,296.69" stroke-width="4.70"/>
<path d="M118.21,296.69 L116.52,297.11" stroke-width="5.13"/>
<path d="M116.52,297.11 L114.69,297.55" stroke-width="5.40"/>
<path d="M114.69,297.55 L112.83,297.98" stroke-width="5.48"/>
<path d="M112.83,297.98 L111.02,298.42" stroke-width="5.37"/>
<path d="M111.02,298.42 L109.35,298.85" stroke-width="5.08"/>
<path d="M109.35,298.85 L107.91,299.26" stroke-width="4.62"/>
<path d="M107.91,299.26 L106.76,299.66" stroke-width="4.02"/>
<path d="M106.76,299.66 L105.97,300.05" stroke-width="3.30"/>
<path d="M105.97,300.05 L105.57,300.41" stroke-width="2.50"/>
</g>
<g fill="none" stroke="#a50c10" stroke-linecap="round" opacity="1">
<path d="M133.80,267.35 L133.93,267.69" stroke-width="1.51"/>
<path d="M133.93,267.69 L134.37,267.91" stroke-width="2.27"/>
<path d="M134.37,267.91 L135.12,268.03" stroke-width="3.00"/>
<path d="M135.12,268.03 L136.14,268.06" stroke-width="3.65"/>
<path d="M136.14,268.06 L137.38,268.00" stroke-width="4.20"/>
<path d="M137.38,268.00 L138.81,267.88" stroke-width="4.61"/>
<path d="M138.81,267.88 L140.34,267.71" stroke-width="4.88"/>
<path d="M140.34,267.71 L141.91,267.54" stroke-width="4.98"/>
<path d="M141.91,267.54 L143.46,267.37" stroke-width="4.91"/>
<path d="M143.46,267.37 L144.91,267.24" stroke-width="4.68"/>
<path d="M144.91,267.24 L146.20,267.17" stroke-width="4.29"/>
<path d="M146.20,267.17 L147.26,267.18" stroke-width="3.76"/>
<path d="M147.26,267.18 L148.07,267.27" stroke-width="3.13"/>
<path d="M148.07,267.27 L148.57,267.48" stroke-width="2.42"/>
<path d="M148.57,267.48 L148.76,267.80" stroke-width="1.66"/>
<path d="M137.27,277.24 L137.58,277.52" stroke-width="1.94"/>
<path d="M137.58,277.52 L138.19,277.68" stroke-width="2.69"/>
<path d="M138.19,277.68 L139.10,277.74" stroke-width="3.37"/>
<path d="M139.10,277.74 L140.25,277.72" stroke-width="3.97"/>
<path d="M140.25,277.72 L141.60,277.62" stroke-width="4.45"/>
<path d="M141.60,277.62 L143.10,277.48" stroke-width="4.78"/>
<path d="M143.10,277.48 L144.66,277.30" stroke-width="4.95"/>
<path d="M144.66,277.30 L146.23,277.13" stroke-width="4.96"/>
<path d="M146.23,277.13 L147.73,276.98" stroke-width="4.80"/>
<path d="M147.73,276.98 L149.10,276.88" stroke-width="4.48"/>
<path d="M149.10,276.88 L150.27,276.85" stroke-width="4.01"/>
<path d="M150.27,276.85 L151.19,276.91" stroke-width="3.42"/>
<path d="M151.19,276.91 L151.83,277.06" stroke-width="2.74"/>
<path d="M151.83,277.06 L152.15,277.33" stroke-width="1.99"/>
<path d="M140.68,286.77 L140.84,287.10" stroke-width="1.60"/>
<path d="M140.84,287.10 L141.32,287.31" stroke-width="2.36"/>
<path d="M141.32,287.31 L142.11,287.42" stroke-width="3.08"/>
<path d="M142.11,287.42 L143.16,287.43" stroke-width="3.72"/>
<path d="M143.16,287.43 L144.43,287.36" stroke-width="4.25"/>
<path d="M144.43,287.36 L145.87,287.23" stroke-width="4.65"/>
<path d="M145.87,287.23 L147.41,287.07" stroke-width="4.90"/>
<path d="M147.41,287.07 L148.99,286.89" stroke-width="4.98"/>
<path d="M148.99,286.89 L150.52,286.73" stroke-width="4.89"/>
<path d="M150.52,286.73 L151.96,286.61" stroke-width="4.64"/>
<path d="M151.96,286.61 L153.22,286.54" stroke-width="4.23"/>
<path d="M153.22,286.54 L154.26,286.56" stroke-width="3.69"/>
<path d="M154.26,286.56 L155.02,286.67" stroke-width="3.04"/>
<path d="M155.02,286.67 L155.49,286.89" stroke-width="2.32"/>
<path d="M155.49,286.89 L155.63,287.22" stroke-width="1.56"/>
<path d="M144.17,296.66 L144.51,296.92" stroke-width="2.04"/>
<path d="M144.51,296.92 L145.17,297.07" stroke-width="2.78"/>
</g>
<g fill="none" stroke="#dc1a1e" stroke-linecap="round" opacity="1">
<path d="M135.27,265.68 L134.50,266.34" stroke-width="3.63"/>
<path d="M134.50,266.34 L134.00,266.90" stroke-width="2.98"/>
<path d="M134.00,266.90 L133.80,267.35" stroke-width="2.25"/>
<path d="M148.76,267.80 L148.63,268.23" stroke-width="2.11"/>
<path d="M148.63,268.23 L148.19,268.77" stroke-width="2.84"/>
<path d="M148.19,268.77 L147.47,269.41" stroke-width="3.51"/>
<path d="M147.47,269.41 L146.51,270.13" stroke-width="4.09"/>
<path d="M146.51,270.13 L145.36,270.92" stroke-width="4.53"/>
<path d="M145.36,270.92 L144.09,271.76" stroke-width="4.83"/>
<path d="M144.09,271.76 L142.75,272.61" stroke-width="4.97"/>
<path d="M142.75,272.61 L141.44,273.46" stroke-width="4.94"/>
<path d="M141.44,273.46 L140.20,274.28" stroke-width="4.74"/>
<path d="M140.20,274.28 L139.12,275.05" stroke-width="4.39"/>
<path d="M139.12,275.05 L138.24,275.75" stroke-width="3.89"/>
<path d="M138.24,275.75 L137.62,276.35" stroke-width="3.28"/>
<path d="M137.62,276.35 L137.29,276.85" stroke-width="2.58"/>
<path d="M137.29,276.85 L137.27,277.24" stroke-width="1.83"/>
<path d="M152.15,277.33 L152.16,277.71" stroke-width="1.77"/>
<path d="M152.16,277.71 L151.85,278.20" stroke-width="2.53"/>
<path d="M151.85,278.20 L151.25,278.80" stroke-width="3.23"/>
<path d="M151.25,278.80 L150.39,279.49" stroke-width="3.85"/>
<path d="M150.39,279.49 L149.32,280.26" stroke-width="4.35"/>
<path d="M149.32,280.26 L148.09,281.07" stroke-width="4.72"/>
<path d="M148.09,281.07 L146.78,281.92" stroke-width="4.93"/>
<path d="M146.78,281.92 L145.45,282.78" stroke-width="4.97"/>
<path d="M145.45,282.78 L144.17,283.62" stroke-width="4.85"/>
<path d="M144.17,283.62 L143.01,284.41" stroke-width="4.56"/>
<path d="M143.01,284.41 L142.03,285.14" stroke-width="4.12"/>
<path d="M142.03,285.14 L141.29,285.79" stroke-width="3.56"/>
<path d="M141.29,285.79 L140.83,286.33" stroke-width="2.89"/>
<path d="M140.83,286.33 L140.68,286.77" stroke-width="2.16"/>
<path d="M155.63,287.22 L155.46,287.66" stroke-width="2.20"/>
<path d="M155.46,287.66 L154.99,288.22" stroke-width="2.93"/>
<path d="M154.99,288.22 L154.23,288.87" stroke-width="3.59"/>
<path d="M154.23,288.87 L153.25,289.60" stroke-width="4.15"/>
<path d="M153.25,289.60 L152.08,290.40" stroke-width="4.58"/>
<path d="M152.08,290.40 L150.80,291.24" stroke-width="4.86"/>
<path d="M150.80,291.24 L149.46,292.09" stroke-width="4.98"/>
<path d="M149.46,292.09 L148.15,292.94" stroke-width="4.92"/>
<path d="M148.15,292.94 L146.93,293.76" stroke-width="4.70"/>
<path d="M146.93,293.76 L145.87,294.52" stroke-width="4.33"/>
<path d="M145.87,294.52 L145.02,295.20" stroke-width="3.82"/>
<path d="M145.02,295.20 L144.43,295.80" stroke-width="3.19"/>
<path d="M144.43,295.80 L144.14,296.28" stroke-width="2.49"/>
<path d="M144.14,296.28 L144.17,296.66" stroke-width="1.73"/>
</g>
<g fill="none" stroke="#a50c10" stroke-linecap="round" opacity="1">
<path d="M130.45,266.99 L130.79,266.68" stroke-width="2.35"/>
<path d="M130.79,266.68 L131.13,265.99" stroke-width="3.16"/>
<path d="M131.13,265.99 L131.49,264.96" stroke-width="3.90"/>
<path d="M131.49,264.96 L131.85,263.64" stroke-width="4.52"/>
<path d="M131.85,263.64 L132.22,262.09" stroke-width="5.01"/>
<path d="M132.22,262.09 L132.59,260.40" stroke-width="5.33"/>
<path d="M132.59,260.40 L132.96,258.64" stroke-width="5.47"/>
<path d="M132.96,258.64 L133.33,256.90" stroke-width="5.42"/>
<path d="M133.33,256.90 L133.70,255.27" stroke-width="5.19"/>
<path d="M133.70,255.27 L134.07,253.83" stroke-width="4.79"/>
<path d="M134.07,253.83 L134.43,252.64" stroke-width="4.23"/>
<path d="M134.43,252.64 L134.78,251.78" stroke-width="3.55"/>
<path d="M134.78,251.78 L135.12,251.27" stroke-width="2.77"/>
<path d="M135.12,251.27 L135.45,251.14" stroke-width="1.94"/>
<path d="M139.63,267.25 L139.96,267.06" stroke-width="2.07"/>
<path d="M139.96,267.06 L140.30,266.50" stroke-width="2.90"/>
<path d="M140.30,266.50 L140.65,265.58" stroke-width="3.66"/>
<path d="M140.65,265.58 L141.01,264.35" stroke-width="4.33"/>
<path d="M141.01,264.35 L141.38,262.87" stroke-width="4.86"/>
<path d="M141.38,262.87 L141.75,261.21" stroke-width="5.24"/>
<path d="M141.75,261.21 L142.12,259.47" stroke-width="5.44"/>
<path d="M142.12,259.47 L142.49,257.71" stroke-width="5.46"/>
<path d="M142.49,257.71 L142.87,256.04" stroke-width="5.29"/>
<path d="M142.87,256.04 L143.23,254.52" stroke-width="4.94"/>
<path d="M143.23,254.52 L143.59,253.25" stroke-width="4.43"/>
<path d="M143.59,253.25 L143.95,252.27" stroke-width="3.79"/>
<path d="M143.95,252.27 L144.29,251.63" stroke-width="3.04"/>
<path d="M144.29,251.63 L144.63,251.38" stroke-width="2.22"/>
<path d="M148.80,267.46 L149.13,267.41" stroke-width="1.79"/>
<path d="M149.13,267.41 L149.47,266.96" stroke-width="2.62"/>
<path d="M149.47,266.96 L149.82,266.16" stroke-width="3.41"/>
<path d="M149.82,266.16 L150.18,265.02" stroke-width="4.12"/>
<path d="M150.18,265.02 L150.54,263.62" stroke-width="4.70"/>
<path d="M150.54,263.62 L150.91,262.02" stroke-width="5.13"/>
<path d="M150.91,262.02 L151.28,260.29" stroke-width="5.40"/>
<path d="M151.28,260.29 L151.66,258.53" stroke-width="5.48"/>
<path d="M151.66,258.53 L152.03,256.82" stroke-width="5.37"/>
<path d="M152.03,256.82 L152.40,255.24" stroke-width="5.08"/>
<path d="M152.40,255.24 L152.76,253.88" stroke-width="4.62"/>
<path d="M152.76,253.88 L153.12,252.79" stroke-width="4.02"/>
<path d="M153.12,252.79 L153.46,252.04" stroke-width="3.30"/>
<path d="M153.46,252.04 L153.80,251.66" stroke-width="2.50"/>
<path d="M153.80,251.66 L154.13,251.66" stroke-width="1.65"/>
<path d="M158.31,267.71 L158.64,267.39" stroke-width="2.35"/>
<path d="M158.64,267.39 L158.99,266.70" stroke-width="3.16"/>
<path d="M158.99,266.70 L159.34,265.67" stroke-width="3.90"/>
<path d="M159.34,265.67 L159.71,264.35" stroke-width="4.52"/>
<path d="M159.71,264.35 L160.07,262.81" stroke-width="5.01"/>
<path d="M160.07,262.81 L160.44,261.11" stroke-width="5.33"/>
<path d="M160.44,261.11 L160.82,259.36" stroke-width="5.47"/>
<path d="M160.82,259.36 L161.19,257.62" stroke-width="5.42"/>
<path d="M161.19,257.62 L161.56,255.99" stroke-width="5.19"/>
<path d="M161.56,255.99 L161.93,254.54" stroke-width="4.79"/>
<path d="M161.93,254.54 L162.28,253.36" stroke-width="4.23"/>
<path d="M162.28,253.36 L162.63,252.49" stroke-width="3.55"/>
<path d="M162.63,252.49 L162.97,251.98" stroke-width="2.77"/>
<path d="M162.97,251.98 L163.31,251.86" stroke-width="1.94"/>
<path d="M167.48,267.96 L167.82,267.78" stroke-width="2.07"/>
<path d="M167.82,267.78 L168.16,267.21" stroke-width="2.90"/>
<path d="M168.16,267.21 L168.51,266.29" stroke-width="3.66"/>
<path d="M168.51,266.29 L168.87,265.06" stroke-width="4.33"/>
</g>
<g fill="none" stroke="#dc1a1e" stroke-linecap="round" opacity="1">
<path d="M129.81,266.45 L130.12,266.92" stroke-width="2.63"/>
<path d="M130.12,266.92 L130.45,266.99" stroke-width="1.80"/>
<path d="M135.45,251.14 L135.77,251.41" stroke-width="2.21"/>
<path d="M135.77,251.41 L136.08,252.05" stroke-width="3.03"/>
<path d="M136.08,252.05 L136.38,253.05" stroke-width="3.78"/>
<path d="M136.38,253.05 L136.68,254.34" stroke-width="4.43"/>
<path d="M136.68,254.34 L136.97,255.87" stroke-width="4.94"/>
<path d="M136.97,255.87 L137.25,257.56" stroke-width="5.29"/>
<path d="M137.25,257.56 L137.53,259.33" stroke-width="5.46"/>
<path d="M137.53,259.33 L137.82,261.10" stroke-width="5.44"/>
<path d="M137.82,261.10 L138.10,262.77" stroke-width="5.24"/>
<path d="M138.10,262.77 L138.39,264.26" stroke-width="4.87"/>
<path d="M138.39,264.26 L138.69,265.51" stroke-width="4.33"/>
<path d="M138.69,265.51 L138.99,266.45" stroke-width="3.67"/>
<path d="M138.99,266.45 L139.30,267.04" stroke-width="2.90"/>
<path d="M139.30,267.04 L139.63,267.25" stroke-width="2.08"/>
<path d="M144.63,251.38 L144.95,251.52" stroke-width="1.93"/>
<path d="M144.95,251.52 L145.26,252.04" stroke-width="2.76"/>
<path d="M145.26,252.04 L145.57,252.92" stroke-width="3.54"/>
<path d="M145.57,252.92 L145.87,254.12" stroke-width="4.22"/>
<path d="M145.87,254.12 L146.16,255.58" stroke-width="4.78"/>
<path d="M146.16,255.58 L146.44,257.22" stroke-width="5.19"/>
<path d="M146.44,257.22 L146.73,258.98" stroke-width="5.42"/>
<path d="M146.73,258.98 L147.01,260.75" stroke-width="5.47"/>
<path d="M147.01,260.75 L147.29,262.46" stroke-width="5.33"/>
<path d="M147.29,262.46 L147.58,264.03" stroke-width="5.01"/>
<path d="M147.58,264.03 L147.87,265.37" stroke-width="4.53"/>
<path d="M147.87,265.37 L148.17,266.42" stroke-width="3.90"/>
<path d="M148.17,266.42 L148.48,267.13" stroke-width="3.17"/>
<path d="M148.48,267.13 L148.80,267.46" stroke-width="2.36"/>
<path d="M154.13,251.66 L154.45,252.06" stroke-width="2.49"/>
<path d="M154.45,252.06 L154.75,252.83" stroke-width="3.29"/>
<path d="M154.75,252.83 L155.05,253.92" stroke-width="4.01"/>
<path d="M155.05,253.92 L155.35,255.30" stroke-width="4.61"/>
<path d="M155.35,255.30 L155.63,256.90" stroke-width="5.07"/>
<path d="M155.63,256.90 L155.92,258.62" stroke-width="5.37"/>
<path d="M155.92,258.62 L156.20,260.40" stroke-width="5.48"/>
<path d="M156.20,260.40 L156.48,262.14" stroke-width="5.40"/>
<path d="M156.48,262.14 L156.77,263.76" stroke-width="5.14"/>
<path d="M156.77,263.76 L157.06,265.19" stroke-width="4.71"/>
<path d="M157.06,265.19 L157.36,266.34" stroke-width="4.13"/>
<path d="M157.36,266.34 L157.67,267.17" stroke-width="3.42"/>
<path d="M157.67,267.17 L157.98,267.63" stroke-width="2.63"/>
<path d="M157.98,267.63 L158.31,267.71" stroke-width="1.80"/>
<path d="M163.31,251.86 L163.63,252.12" stroke-width="2.21"/>
<path d="M163.63,252.12 L163.94,252.77" stroke-width="3.03"/>
<path d="M163.94,252.77 L164.24,253.76" stroke-width="3.78"/>
<path d="M164.24,253.76 L164.54,255.06" stroke-width="4.43"/>
<path d="M164.54,255.06 L164.82,256.58" stroke-width="4.94"/>
<path d="M164.82,256.58 L165.11,258.28" stroke-width="5.29"/>
<path d="M165.11,258.28 L165.39,260.05" stroke-width="5.46"/>
<path d="M165.39,260.05 L165.67,261.81" stroke-width="5.44"/>
<path d="M165.67,261.81 L165.96,263.48" stroke-width="5.24"/>
<path d="M165.96,263.48 L166.25,264.98" stroke-width="4.87"/>
<path d="M166.25,264.98 L166.54,266.23" stroke-width="4.33"/>
<path d="M166.54,266.23 L166.85,267.17" stroke-width="3.67"/>
<path d="M166.85,267.17 L167.16,267.76" stroke-width="2.90"/>
<path d="M167.16,267.76 L167.48,267.96" stroke-width="2.08"/>
</g>
<g fill="none" stroke="#a50c10" stroke-linecap="round" opacity="1">
<path d="M104.89,255.15 L105.17,254.83" stroke-width="2.41"/>
<path d="M105.17,254.83 L105.38,254.11" stroke-width="3.30"/>
<path d="M105.38,254.11 L105.54,253.03" stroke-width="4.12"/>
<path d="M105.54,253.03 L105.64,251.64" stroke-width="4.82"/>
<path d="M105.64,251.64 L105.71,250.00" stroke-width="5.38"/>
<path d="M105.71,250.00 L105.76,248.19" stroke-width="5.76"/>
<path d="M105.76,248.19 L105.79,246.30" stroke-width="5.95"/>
<path d="M105.79,246.30 L105.82,244.41" stroke-width="5.94"/>
<path d="M105.82,244.41 L105.86,242.61" stroke-width="5.73"/>
<path d="M105.86,242.61 L105.94,241.00" stroke-width="5.32"/>
<path d="M105.94,241.00 L106.05,239.64" stroke-width="4.75"/>
<path d="M106.05,239.64 L106.21,238.60" stroke-width="4.02"/>
<path d="M106.21,238.60 L106.43,237.94" stroke-width="3.19"/>
<path d="M106.43,237.94 L106.71,237.66" stroke-width="2.30"/>
<path d="M113.76,253.76 L114.06,253.60" stroke-width="2.04"/>
<path d="M114.06,253.60 L114.30,253.04" stroke-width="2.95"/>
<path d="M114.30,253.04 L114.48,252.11" stroke-width="3.80"/>
<path d="M114.48,252.11 L114.61,250.83" stroke-width="4.56"/>
<path d="M114.61,250.83 L114.69,249.28" stroke-width="5.18"/>
<path d="M114.69,249.28 L114.74,247.53" stroke-width="5.63"/>
<path d="M114.74,247.53 L114.77,245.66" stroke-width="5.90"/>
<path d="M114.77,245.66 L114.80,243.76" stroke-width="5.97"/>
<path d="M114.80,243.76 L114.84,241.91" stroke-width="5.84"/>
<path d="M114.84,241.91 L114.90,240.22" stroke-width="5.51"/>
<path d="M114.90,240.22 L115.00,238.75" stroke-width="5.00"/>
<path d="M115.00,238.75 L115.14,237.58" stroke-width="4.33"/>
<path d="M115.14,237.58 L115.34,236.76" stroke-width="3.54"/>
<path d="M115.34,236.76 L115.59,236.32" stroke-width="2.66"/>
<path d="M122.95,252.32 L123.21,251.92" stroke-width="2.59"/>
<path d="M123.21,251.92 L123.41,251.12" stroke-width="3.47"/>
<path d="M123.41,251.12 L123.56,249.98" stroke-width="4.27"/>
<path d="M123.56,249.98 L123.66,248.53" stroke-width="4.95"/>
<path d="M123.66,248.53 L123.72,246.85" stroke-width="5.47"/>
<path d="M123.72,246.85 L123.76,245.02" stroke-width="5.82"/>
<path d="M123.76,245.02 L123.79,243.12" stroke-width="5.97"/>
<path d="M123.79,243.12 L123.82,241.24" stroke-width="5.92"/>
<path d="M123.82,241.24 L123.87,239.47" stroke-width="5.66"/>
<path d="M123.87,239.47 L123.95,237.90" stroke-width="5.22"/>
<path d="M123.95,237.90 L124.08,236.61" stroke-width="4.61"/>
<path d="M124.08,236.61 L124.25,235.64" stroke-width="3.87"/>
<path d="M124.25,235.64 L124.48,235.05" stroke-width="3.02"/>
<path d="M124.48,235.05 L124.78,234.86" stroke-width="2.11"/>
<path d="M131.83,250.96 L132.12,250.72" stroke-width="2.22"/>
<path d="M132.12,250.72 L132.34,250.09" stroke-width="3.13"/>
<path d="M132.34,250.09 L132.51,249.08" stroke-width="3.96"/>
<path d="M132.51,249.08 L132.63,247.74" stroke-width="4.69"/>
<path d="M132.63,247.74 L132.70,246.15" stroke-width="5.28"/>
<path d="M132.70,246.15 L132.75,244.36" stroke-width="5.70"/>
<path d="M132.75,244.36 L132.78,242.48" stroke-width="5.93"/>
<path d="M132.78,242.48 L132.81,240.58" stroke-width="5.96"/>
<path d="M132.81,240.58 L132.85,238.76" stroke-width="5.79"/>
<path d="M132.85,238.76 L132.92,237.10" stroke-width="5.42"/>
<path d="M132.92,237.10 L133.02,235.69" stroke-width="4.87"/>
<path d="M133.02,235.69 L133.17,234.58" stroke-width="4.18"/>
<path d="M133.17,234.58 L133.38,233.84" stroke-width="3.37"/>
<path d="M133.38,233.84 L133.65,233.49" stroke-width="2.48"/>
<path d="M140.69,249.54 L141.01,249.47" stroke-width="1.86"/>
<path d="M141.01,249.47 L141.26,248.99" stroke-width="2.77"/>
<path d="M141.26,248.99 L141.45,248.12" stroke-width="3.64"/>
<path d="M141.45,248.12 L141.58,246.91" stroke-width="4.42"/>
<path d="M141.58,246.91 L141.68,245.41" stroke-width="5.07"/>
<path d="M141.68,245.41 L141.73,243.69" stroke-width="5.56"/>
<path d="M141.73,243.69 L141.77,241.84" stroke-width="5.86"/>
<path d="M141.77,241.84 L141.80,239.94" stroke-width="5.97"/>
<path d="M141.80,239.94 L141.83,238.07" stroke-width="5.88"/>
<path d="M141.83,238.07 L141.89,236.34" stroke-width="5.59"/>
<path d="M141.89,236.34 L141.98,234.82" stroke-width="5.11"/>
<path d="M141.98,234.82 L142.11,233.58" stroke-width="4.47"/>
<path d="M142.11,233.58 L142.29,232.69" stroke-width="3.70"/>
<path d="M142.29,232.69 L142.54,232.18" stroke-width="2.84"/>
<path d="M142.54,232.18 L142.85,232.07" stroke-width="1.93"/>
</g>
<g fill="none" stroke="#dc1a1e" stroke-linecap="round" opacity="1">
<path d="M102.63,251.03 L103.18,252.50" stroke-width="5.22"/>
<path d="M103.18,252.50 L103.69,253.70" stroke-width="4.61"/>
<path d="M103.69,253.70 L104.15,254.56" stroke-width="3.87"/>
<path d="M104.15,254.56 L104.55,255.06" stroke-width="3.02"/>
<path d="M104.55,255.06 L104.89,255.15" stroke-width="2.11"/>
<path d="M106.71,237.66 L107.06,237.80" stroke-width="2.22"/>
<path d="M107.06,237.80 L107.47,238.34" stroke-width="3.13"/>
<path d="M107.47,238.34 L107.94,239.25" stroke-width="3.96"/>
<path d="M107.94,239.25 L108.45,240.49" stroke-width="4.69"/>
<path d="M108.45,240.49 L109.01,241.99" stroke-width="5.28"/>
<path d="M109.01,241.99 L109.60,243.67" stroke-width="5.70"/>
<path d="M109.60,243.67 L110.20,245.46" stroke-width="5.93"/>
<path d="M110.20,245.46 L110.80,247.26" stroke-width="5.96"/>
<path d="M110.80,247.26 L111.40,248.98" stroke-width="5.79"/>
<path d="M111.40,248.98 L111.96,250.54" stroke-width="5.42"/>
<path d="M111.96,250.54 L112.49,251.85" stroke-width="4.87"/>
<path d="M112.49,251.85 L112.97,252.86" stroke-width="4.18"/>
<path d="M112.97,252.86 L113.40,253.51" stroke-width="3.37"/>
<path d="M113.40,253.51 L113.76,253.76" stroke-width="2.48"/>
<path d="M115.59,236.32 L115.91,236.30" stroke-width="1.86"/>
<path d="M115.91,236.30 L116.30,236.68" stroke-width="2.77"/>
<path d="M116.30,236.68 L116.74,237.45" stroke-width="3.64"/>
<path d="M116.74,237.45 L117.24,238.56" stroke-width="4.42"/>
<path d="M117.24,238.56 L117.78,239.96" stroke-width="5.07"/>
<path d="M117.78,239.96 L118.36,241.58" stroke-width="5.56"/>
<path d="M118.36,241.58 L118.96,243.34" stroke-width="5.86"/>
<path d="M118.96,243.34 L119.56,245.14" stroke-width="5.97"/>
<path d="M119.56,245.14 L120.16,246.91" stroke-width="5.88"/>
<path d="M120.16,246.91 L120.74,248.54" stroke-width="5.59"/>
<path d="M120.74,248.54 L121.29,249.96" stroke-width="5.11"/>
<path d="M121.29,249.96 L121.79,251.10" stroke-width="4.47"/>
<path d="M121.79,251.10 L122.24,251.89" stroke-width="3.70"/>
<path d="M122.24,251.89 L122.62,252.31" stroke-width="2.84"/>
<path d="M122.62,252.31 L122.95,252.32" stroke-width="1.93"/>
<path d="M124.78,234.86 L125.14,235.08" stroke-width="2.41"/>
<path d="M125.14,235.08 L125.56,235.70" stroke-width="3.30"/>
<path d="M125.56,235.70 L126.04,236.68" stroke-width="4.12"/>
<path d="M126.04,236.68 L126.56,237.97" stroke-width="4.82"/>
<path d="M126.56,237.97 L127.13,239.51" stroke-width="5.38"/>
<path d="M127.13,239.51 L127.72,241.22" stroke-width="5.76"/>
<path d="M127.72,241.22 L128.32,243.02" stroke-width="5.95"/>
<path d="M128.32,243.02 L128.92,244.81" stroke-width="5.94"/>
<path d="M128.92,244.81 L129.51,246.51" stroke-width="5.73"/>
<path d="M129.51,246.51 L130.07,248.02" stroke-width="5.32"/>
<path d="M130.07,248.02 L130.59,249.28" stroke-width="4.75"/>
<path d="M130.59,249.28 L131.06,250.22" stroke-width="4.02"/>
<path d="M131.06,250.22 L131.48,250.79" stroke-width="3.19"/>
<path d="M131.48,250.79 L131.83,250.96" stroke-width="2.30"/>
<path d="M133.65,233.49 L133.99,233.54" stroke-width="2.04"/>
<path d="M133.99,233.54 L134.38,234.00" stroke-width="2.95"/>
<path d="M134.38,234.00 L134.84,234.84" stroke-width="3.80"/>
<path d="M134.84,234.84 L135.35,236.02" stroke-width="4.56"/>
<path d="M135.35,236.02 L135.90,237.47" stroke-width="5.18"/>
<path d="M135.90,237.47 L136.48,239.12" stroke-width="5.63"/>
<path d="M136.48,239.12 L137.08,240.90" stroke-width="5.90"/>
<path d="M137.08,240.90 L137.68,242.70" stroke-width="5.97"/>
<path d="M137.68,242.70 L138.28,244.45" stroke-width="5.84"/>
<path d="M138.28,244.45 L138.85,246.04" stroke-width="5.51"/>
<path d="M138.85,246.04 L139.39,247.41" stroke-width="5.00"/>
<path d="M139.39,247.41 L139.88,248.49" stroke-width="4.33"/>
<path d="M139.88,248.49 L140.32,249.21" stroke-width="3.54"/>
<path d="M140.32,249.21 L140.69,249.54" stroke-width="2.66"/>
<path d="M142.85,232.07 L143.22,232.37" stroke-width="2.59"/>
<path d="M143.22,232.37 L143.65,233.07" stroke-width="3.47"/>
<path d="M143.65,233.07 L144.14,234.11" stroke-width="4.27"/>
<path d="M144.14,234.11 L144.67,235.46" stroke-width="4.95"/>
<path d="M144.67,235.46 L145.24,237.04" stroke-width="5.47"/>
<path d="M145.24,237.04 L145.84,238.78" stroke-width="5.82"/>
<path d="M145.84,238.78 L146.44,240.58" stroke-width="5.97"/>
<path d="M146.44,240.58 L147.04,242.36" stroke-width="5.92"/>
<path d="M147.04,242.36 L147.63,244.03" stroke-width="5.66"/>
</g>
<path d="M148.00,237.00 C149.17,236.33 153.00,234.83 155.00,233.00 C157.00,231.17 159.33,228.33 160.00,226.00 C160.67,223.67 158.17,220.67 159.00,219.00 C159.83,217.33 163.00,216.00 165.00,216.00 C167.00,216.00 170.17,217.33 171.00,219.00 C171.83,220.67 171.17,224.50 170.00,226.00 C168.83,227.50 164.33,226.67 164.00,228.00 C163.67,229.33 165.00,232.17 168.00,234.00 C171.00,235.83 177.33,237.33 182.00,239.00 C186.67,240.67 192.50,241.83 196.00,244.00 C199.50,246.17 202.17,248.67 203.00,252.00 C203.83,255.33 202.33,260.67 201.00,264.00 C199.67,267.33 197.50,270.00 195.00,272.00 C192.50,274.00 188.83,275.83 186.00,276.00 C183.17,276.17 179.33,273.50 178.00,273.00" fill="none" stroke="#dc1a1e" stroke-width="2.6" stroke-linecap="round" stroke-linejoin="round" opacity="1"/>
<path d="M151.00,246.00 C153.50,246.50 161.17,247.83 166.00,249.00 C170.83,250.17 175.67,251.50 180.00,253.00 C184.33,254.50 190.00,257.17 192.00,258.00" fill="none" stroke="#a50c10" stroke-width="7.7" stroke-linecap="butt" stroke-linejoin="round" opacity="1"/>
<path d="M151.00,246.00 C153.50,246.50 161.17,247.83 166.00,249.00 C170.83,250.17 175.67,251.50 180.00,253.00 C184.33,254.50 190.00,257.17 192.00,258.00" fill="none" stroke="#dc1a1e" stroke-width="6.5" stroke-linecap="butt" stroke-linejoin="round" opacity="1"/>
<path d="M15.00,310.00 C15.33,312.00 16.50,317.67 17.00,322.00 C17.50,326.33 17.50,332.67 18.00,336.00 C18.50,339.33 17.17,340.17 20.00,342.00 C22.83,343.83 28.33,345.67 35.00,347.00 C41.67,348.33 52.50,350.00 60.00,350.00 C67.50,350.00 74.33,348.50 80.00,347.00 C85.67,345.50 91.67,342.00 94.00,341.00" fill="none" stroke="#22c2cc" stroke-width="2.4" stroke-linecap="round" stroke-linejoin="round" opacity="1"/>
<path d="M15.00,310.00 C16.17,311.17 19.50,316.33 22.00,317.00 C24.50,317.67 27.33,315.00 30.00,314.00 C32.67,313.00 35.67,310.83 38.00,311.00 C40.33,311.17 43.17,313.17 44.00,315.00 C44.83,316.83 44.17,320.67 43.00,322.00 C41.83,323.33 38.50,323.67 37.00,323.00 C35.50,322.33 34.50,318.83 34.00,318.00" fill="none" stroke="#22c2cc" stroke-width="3.2" stroke-linecap="round" stroke-linejoin="round" opacity="1"/>
<path d="M26.00,320.00 C27.67,321.67 32.33,327.33 36.00,330.00 C39.67,332.67 43.67,334.83 48.00,336.00 C52.33,337.17 57.00,337.00 62.00,337.00 C67.00,337.00 72.33,336.67 78.00,336.00 C83.67,335.33 90.67,333.83 96.00,333.00 C101.33,332.17 107.67,331.33 110.00,331.00" fill="none" stroke="#128a94" stroke-width="5.4" stroke-linecap="butt" stroke-linejoin="round" opacity="1"/>
<path d="M26.00,320.00 C27.67,321.67 32.33,327.33 36.00,330.00 C39.67,332.67 43.67,334.83 48.00,336.00 C52.33,337.17 57.00,337.00 62.00,337.00 C67.00,337.00 72.33,336.67 78.00,336.00 C83.67,335.33 90.67,333.83 96.00,333.00 C101.33,332.17 107.67,331.33 110.00,331.00" fill="none" stroke="#22c2cc" stroke-width="4.2" stroke-linecap="butt" stroke-linejoin="round" opacity="1"/>
<path d="M42.00,329.00 C44.33,328.33 51.00,326.67 56.00,325.00 C61.00,323.33 66.67,321.00 72.00,319.00 C77.33,317.00 83.33,314.83 88.00,313.00 C92.67,311.17 98.00,308.83 100.00,308.00" fill="none" stroke="#128a94" stroke-width="5.7" stroke-linecap="butt" stroke-linejoin="round" opacity="1"/>
<path d="M42.00,329.00 C44.33,328.33 51.00,326.67 56.00,325.00 C61.00,323.33 66.67,321.00 72.00,319.00 C77.33,317.00 83.33,314.83 88.00,313.00 C92.67,311.17 98.00,308.83 100.00,308.00" fill="none" stroke="#22c2cc" stroke-width="4.5" stroke-linecap="butt" stroke-linejoin="round" opacity="1"/>
<path d="M101.64,311.95 L105.82,305.58 L98.36,304.05Z" fill="#22c2cc" stroke="#128a94" stroke-width="0.6" opacity="1"/>
<path d="M48.00,333.00 C50.67,332.33 58.67,330.50 64.00,329.00 C69.33,327.50 74.67,325.67 80.00,324.00 C85.33,322.33 91.33,320.33 96.00,319.00 C100.67,317.67 106.00,316.50 108.00,316.00" fill="none" stroke="#128a94" stroke-width="5.7" stroke-linecap="butt" stroke-linejoin="round" opacity="1"/>
<path d="M48.00,333.00 C50.67,332.33 58.67,330.50 64.00,329.00 C69.33,327.50 74.67,325.67 80.00,324.00 C85.33,322.33 91.33,320.33 96.00,319.00 C100.67,317.67 106.00,316.50 108.00,316.00" fill="none" stroke="#22c2cc" stroke-width="4.5" stroke-linecap="butt" stroke-linejoin="round" opacity="1"/>
<path d="M109.04,320.15 L114.11,314.47 L106.96,311.85Z" fill="#22c2cc" stroke="#128a94" stroke-width="0.6" opacity="1"/>
<path d="M20.00,342.00 C22.67,343.00 30.00,346.67 36.00,348.00 C42.00,349.33 49.33,349.83 56.00,350.00 C62.67,350.17 70.00,350.17 76.00,349.00 C82.00,347.83 89.33,344.00 92.00,343.00" fill="none" stroke="#128a94" stroke-width="5.8" stroke-linecap="butt" stroke-linejoin="round" opacity="1"/>
<path d="M20.00,342.00 C22.67,343.00 30.00,346.67 36.00,348.00 C42.00,349.33 49.33,349.83 56.00,350.00 C62.67,350.17 70.00,350.17 76.00,349.00 C82.00,347.83 89.33,344.00 92.00,343.00" fill="none" stroke="#22c2cc" stroke-width="4.6" stroke-linecap="butt" stroke-linejoin="round" opacity="1"/>
<path d="M104.00,342.00 C104.33,340.00 105.33,334.00 106.00,330.00 C106.67,326.00 107.50,321.17 108.00,318.00 C108.50,314.83 108.83,312.17 109.00,311.00" fill="none" stroke="#128a94" stroke-width="5.7" stroke-linecap="butt" stroke-linejoin="round" opacity="1"/>
<path d="M104.00,342.00 C104.33,340.00 105.33,334.00 106.00,330.00 C106.67,326.00 107.50,321.17 108.00,318.00 C108.50,314.83 108.83,312.17 109.00,311.00" fill="none" stroke="#22c2cc" stroke-width="4.5" stroke-linecap="butt" stroke-linejoin="round" opacity="1"/>
<path d="M113.23,311.60 L109.89,304.76 L104.77,310.40Z" fill="#22c2cc" stroke="#128a94" stroke-width="0.6" opacity="1"/>
<g fill="none" stroke="#128a94" stroke-linecap="round" opacity="1">
<path d="M93.89,350.68 L94.26,350.76" stroke-width="1.59"/>
<path d="M94.26,350.76 L94.71,350.58" stroke-width="2.36"/>
<path d="M94.71,350.58 L95.23,350.16" stroke-width="3.08"/>
<path d="M95.23,350.16 L95.81,349.52" stroke-width="3.72"/>
<path d="M95.81,349.52 L96.45,348.71" stroke-width="4.26"/>
<path d="M96.45,348.71 L97.13,347.76" stroke-width="4.65"/>
<path d="M97.13,347.76 L97.83,346.72" stroke-width="4.90"/>
<path d="M97.83,346.72 L98.54,345.67" stroke-width="4.98"/>
<path d="M98.54,345.67 L99.24,344.64" stroke-width="4.89"/>
<path d="M99.24,344.64 L99.92,343.70" stroke-width="4.63"/>
<path d="M99.92,343.70 L100.55,342.89" stroke-width="4.22"/>
<path d="M100.55,342.89 L101.13,342.27" stroke-width="3.67"/>
<path d="M101.13,342.27 L101.64,341.87" stroke-width="3.02"/>
<path d="M101.64,341.87 L102.09,341.71" stroke-width="2.30"/>
<path d="M102.09,341.71 L102.45,341.80" stroke-width="1.53"/>
<path d="M104.41,353.82 L104.83,353.72" stroke-width="2.11"/>
<path d="M104.83,353.72 L105.33,353.38" stroke-width="2.84"/>
<path d="M105.33,353.38 L105.89,352.81" stroke-width="3.52"/>
<path d="M105.89,352.81 L106.51,352.05" stroke-width="4.09"/>
<path d="M106.51,352.05 L107.18,351.14" stroke-width="4.54"/>
<path d="M107.18,351.14 L107.87,350.13" stroke-width="4.84"/>
<path d="M107.87,350.13 L108.58,349.07" stroke-width="4.97"/>
<path d="M108.58,349.07 L109.29,348.03" stroke-width="4.94"/>
<path d="M109.29,348.03 L109.97,347.05" stroke-width="4.73"/>
<path d="M109.97,347.05 L110.62,346.20" stroke-width="4.37"/>
<path d="M110.62,346.20 L111.22,345.51" stroke-width="3.87"/>
<path d="M111.22,345.51 L111.76,345.03" stroke-width="3.25"/>
<path d="M111.76,345.03 L112.22,344.79" stroke-width="2.55"/>
<path d="M112.22,344.79 L112.62,344.80" stroke-width="1.79"/>
<path d="M114.56,356.85 L114.96,356.84" stroke-width="1.85"/>
<path d="M114.96,356.84 L115.43,356.58" stroke-width="2.60"/>
<path d="M115.43,356.58 L115.97,356.08" stroke-width="3.30"/>
<path d="M115.97,356.08 L116.58,355.38" stroke-width="3.91"/>
<path d="M116.58,355.38 L117.23,354.51" stroke-width="4.40"/>
<path d="M117.23,354.51 L117.92,353.53" stroke-width="4.75"/>
<path d="M117.92,353.53 L118.62,352.48" stroke-width="4.94"/>
<path d="M118.62,352.48 L119.33,351.43" stroke-width="4.97"/>
<path d="M119.33,351.43 L120.02,350.42" stroke-width="4.82"/>
<path d="M120.02,350.42 L120.69,349.52" stroke-width="4.51"/>
<path d="M120.69,349.52 L121.30,348.77" stroke-width="4.05"/>
<path d="M121.30,348.77 L121.86,348.22" stroke-width="3.47"/>
<path d="M121.86,348.22 L122.35,347.90" stroke-width="2.79"/>
<path d="M122.35,347.90 L122.77,347.82" stroke-width="2.05"/>
<path d="M124.72,359.85 L125.09,359.93" stroke-width="1.59"/>
<path d="M125.09,359.93 L125.54,359.75" stroke-width="2.36"/>
<path d="M125.54,359.75 L126.06,359.33" stroke-width="3.08"/>
<path d="M126.06,359.33 L126.65,358.69" stroke-width="3.72"/>
<path d="M126.65,358.69 L127.28,357.87" stroke-width="4.26"/>
<path d="M127.28,357.87 L127.96,356.92" stroke-width="4.65"/>
<path d="M127.96,356.92 L128.66,355.89" stroke-width="4.90"/>
<path d="M128.66,355.89 L129.37,354.83" stroke-width="4.98"/>
<path d="M129.37,354.83 L130.07,353.80" stroke-width="4.89"/>
<path d="M130.07,353.80 L130.75,352.86" stroke-width="4.63"/>
<path d="M130.75,352.86 L131.38,352.06" stroke-width="4.22"/>
<path d="M131.38,352.06 L131.96,351.44" stroke-width="3.67"/>
<path d="M131.96,351.44 L132.48,351.03" stroke-width="3.02"/>
</g>
<g fill="none" stroke="#22c2cc" stroke-linecap="round" opacity="1">
<path d="M93.12,347.98 L93.21,348.97" stroke-width="4.14"/>
<path d="M93.21,348.97 L93.37,349.77" stroke-width="3.57"/>
<path d="M93.37,349.77 L93.59,350.35" stroke-width="2.91"/>
<path d="M93.59,350.35 L93.89,350.68" stroke-width="2.17"/>
<path d="M102.45,341.80 L102.74,342.16" stroke-width="2.23"/>
<path d="M102.74,342.16 L102.96,342.76" stroke-width="2.96"/>
<path d="M102.96,342.76 L103.11,343.57" stroke-width="3.62"/>
<path d="M103.11,343.57 L103.21,344.58" stroke-width="4.17"/>
<path d="M103.21,344.58 L103.26,345.73" stroke-width="4.60"/>
<path d="M103.26,345.73 L103.29,346.96" stroke-width="4.87"/>
<path d="M103.29,346.96 L103.30,348.24" stroke-width="4.98"/>
<path d="M103.30,348.24 L103.32,349.49" stroke-width="4.91"/>
<path d="M103.32,349.49 L103.37,350.67" stroke-width="4.68"/>
<path d="M103.37,350.67 L103.45,351.71" stroke-width="4.30"/>
<path d="M103.45,351.71 L103.59,352.58" stroke-width="3.77"/>
<path d="M103.59,352.58 L103.79,353.24" stroke-width="3.14"/>
<path d="M103.79,353.24 L104.06,353.66" stroke-width="2.42"/>
<path d="M104.06,353.66 L104.41,353.82" stroke-width="1.66"/>
<path d="M112.62,344.80 L112.93,345.07" stroke-width="1.98"/>
<path d="M112.93,345.07 L113.17,345.59" stroke-width="2.72"/>
<path d="M113.17,345.59 L113.34,346.33" stroke-width="3.41"/>
<path d="M113.34,346.33 L113.46,347.28" stroke-width="4.00"/>
<path d="M113.46,347.28 L113.52,348.39" stroke-width="4.47"/>
<path d="M113.52,348.39 L113.56,349.60" stroke-width="4.80"/>
<path d="M113.56,349.60 L113.57,350.87" stroke-width="4.96"/>
<path d="M113.57,350.87 L113.59,352.14" stroke-width="4.95"/>
<path d="M113.59,352.14 L113.63,353.34" stroke-width="4.78"/>
<path d="M113.63,353.34 L113.70,354.44" stroke-width="4.44"/>
<path d="M113.70,354.44 L113.82,355.37" stroke-width="3.96"/>
<path d="M113.82,355.37 L113.99,356.10" stroke-width="3.36"/>
<path d="M113.99,356.10 L114.24,356.60" stroke-width="2.67"/>
<path d="M114.24,356.60 L114.56,356.85" stroke-width="1.92"/>
<path d="M122.77,347.82 L123.11,348.00" stroke-width="1.72"/>
<path d="M123.11,348.00 L123.38,348.44" stroke-width="2.48"/>
<path d="M123.38,348.44 L123.57,349.12" stroke-width="3.19"/>
<path d="M123.57,349.12 L123.70,350.00" stroke-width="3.82"/>
<path d="M123.70,350.00 L123.78,351.06" stroke-width="4.33"/>
<path d="M123.78,351.06 L123.83,352.24" stroke-width="4.71"/>
<path d="M123.83,352.24 L123.85,353.50" stroke-width="4.92"/>
<path d="M123.85,353.50 L123.86,354.77" stroke-width="4.97"/>
<path d="M123.86,354.77 L123.89,356.01" stroke-width="4.85"/>
<path d="M123.89,356.01 L123.95,357.14" stroke-width="4.57"/>
<path d="M123.95,357.14 L124.05,358.14" stroke-width="4.14"/>
<path d="M124.05,358.14 L124.20,358.94" stroke-width="3.57"/>
<path d="M124.20,358.94 L124.43,359.52" stroke-width="2.91"/>
<path d="M124.43,359.52 L124.72,359.85" stroke-width="2.17"/>
</g>
<path d="M11.00,318.00 C11.67,318.83 14.67,321.00 15.00,323.00 C15.33,325.00 12.50,328.17 13.00,330.00 C13.50,331.83 17.83,332.33 18.00,334.00 C18.17,335.67 13.67,338.17 14.00,340.00 C14.33,341.83 17.67,343.83 20.00,345.00 C22.33,346.17 25.83,347.50 28.00,347.00 C30.17,346.50 32.17,342.83 33.00,342.00" fill="none" stroke="#d6c046" stroke-width="1.7" stroke-linecap="round" stroke-linejoin="round" opacity="1"/>
<circle cx="11" cy="317" r="1.4" fill="#c03030"/>
<circle cx="33" cy="341" r="1.4" fill="#c03030"/>
<circle cx="23" cy="348" r="1.4" fill="#c03030"/>
<circle cx="18" cy="334" r="1.4" fill="#4040c0"/>
<circle cx="21" cy="322" r="1.4" fill="#c03030"/>
<path d="M148.00,270.00 C148.67,271.00 151.67,274.00 152.00,276.00 C152.33,278.00 149.33,280.33 150.00,282.00 C150.67,283.67 154.00,286.00 156.00,286.00 C158.00,286.00 160.33,283.67 162.00,282.00 C163.67,280.33 165.83,278.00 166.00,276.00 C166.17,274.00 163.50,271.00 163.00,270.00" fill="none" stroke="#d6c046" stroke-width="1.7" stroke-linecap="round" stroke-linejoin="round" opacity="1"/>
<path d="M172.00,276.00 C172.67,276.67 175.50,278.33 176.00,280.00 C176.50,281.67 175.17,285.00 175.00,286.00" fill="none" stroke="#d6c046" stroke-width="1.7" stroke-linecap="round" stroke-linejoin="round" opacity="1"/>
<circle cx="147" cy="268" r="1.4" fill="#4040c0"/>
<circle cx="166" cy="276" r="1.4" fill="#4040c0"/>
<circle cx="150" cy="284" r="1.4" fill="#4040c0"/>
<circle cx="172" cy="276" r="1.4" fill="#c03030"/>
<circle cx="176" cy="287" r="1.4" fill="#c03030"/>
<text x="15" y="398" font-size="14.5" fill="#6c2a86" text-anchor="start" textLength="208.5" lengthAdjust="spacingAndGlyphs" style="font-family:'Liberation Serif',serif;font-weight:bold" >Catalytic domain based screening</text>
<line x1="231" y1="296.2" x2="254.89999999999998" y2="296.2" stroke="#231815" stroke-width="1.4"/>
<path d="M264.2,296.2 L252.89999999999998,291.3 L255.49999999999997,296.2 L252.89999999999998,301.09999999999997Z" fill="#231815"/>
<line x1="353.1" y1="213.2" x2="353.1" y2="189.8" stroke="#231815" stroke-width="1.4"/>
<path d="M353.1,181.3 L348.3,191.8 L353.1,188.8 L357.90000000000003,191.8Z" fill="#231815"/>
<text x="272.8" y="201.6" font-size="14" fill="#6c2a86" text-anchor="start" textLength="68.6" lengthAdjust="spacingAndGlyphs" style="font-family:'Liberation Serif',serif;font-weight:bold" >Optimizing</text>
<g stroke="#1e1e1e" stroke-width="1.1" stroke-linecap="butt" fill="none">
<path d="M319.40,58.60 L330.30,64.90"/>
<path d="M320.10,61.66 L327.30,65.82"/>
<path d="M330.30,64.90 L330.30,77.30"/>
<path d="M330.30,77.30 L319.40,83.50"/>
<path d="M327.31,76.35 L320.12,80.45"/>
<path d="M319.40,83.50 L308.70,77.30"/>
<path d="M308.70,77.30 L308.70,64.90"/>
<path d="M311.00,75.19 L311.00,67.01"/>
<path d="M308.70,64.90 L319.40,58.60"/>
<path d="M330.30,64.90 L337.39,60.80"/>
<path d="M345.00,60.82 L352.00,64.90"/>
<path d="M352.00,64.90 L352.00,77.30"/>
<path d="M349.70,67.01 L349.70,75.19"/>
<path d="M352.00,77.30 L341.20,83.50"/>
<path d="M341.20,83.50 L330.30,77.30"/>
<path d="M340.00,83.52 L340.13,91.02 M342.40,83.48 L342.53,90.98"/>
<path d="M319.40,83.50 L319.27,91.00"/>
<path d="M308.70,64.90 L301.94,60.72"/>
<path d="M319.40,58.60 L319.40,45.30"/>
<path d="M315.47,38.92 L304.50,33.40"/>
<path d="M304.50,33.40 L303.30,19.90"/>
<path d="M303.30,19.90 L296.32,17.84"/>
<path d="M301.46,21.76 L296.86,20.40"/>
<path d="M289.72,20.30 L287.08,24.40"/>
<path d="M287.40,31.57 L292.80,38.50"/>
<path d="M292.80,38.50 L304.50,33.40"/>
<path d="M293.87,35.52 L301.59,32.16"/>
<path d="M303.30,19.90 L312.90,12.20"/>
<path d="M292.80,38.50 L290.60,50.60"/>
<path d="M352.00,64.90 L363.39,57.80"/>
<path d="M374.30,38.90 L385.21,45.20"/>
<path d="M385.21,45.20 L385.21,57.80"/>
<path d="M382.91,47.34 L382.91,55.66"/>
<path d="M385.21,57.80 L374.30,64.10"/>
<path d="M374.30,64.10 L363.39,57.80"/>
<path d="M373.59,61.04 L366.39,56.88"/>
<path d="M363.39,57.80 L363.39,45.20"/>
<path d="M363.39,45.20 L374.30,38.90"/>
<path d="M366.39,46.12 L373.59,41.96"/>
<path d="M385.21,45.20 L392.56,40.62"/>
<path d="M396.30,33.90 L396.30,25.90"/>
<path d="M396.30,25.90 L407.10,19.70"/>
<path d="M407.10,19.70 L413.99,23.69"/>
<path d="M417.80,30.30 L417.80,38.30"/>
<path d="M417.80,38.30 L407.10,44.50"/>
<path d="M407.10,44.50 L400.12,40.49"/>
<path d="M421.76,23.98 L429.36,20.30"/>
<path d="M429.36,20.30 L429.36,7.90"/>
<path d="M429.36,7.90 L440.10,1.70"/>
<path d="M432.34,8.84 L439.42,4.75"/>
<path d="M440.10,1.70 L450.84,7.90"/>
<path d="M450.84,7.90 L450.84,20.30"/>
<path d="M448.54,10.01 L448.54,18.19"/>
<path d="M450.84,20.30 L443.91,24.30"/>
<path d="M436.29,24.30 L429.36,20.30"/>
<path d="M436.26,21.63 L431.69,18.99"/>
</g>
<text x="341.20" y="61.84" font-size="9.0" fill="#1e1e1e" text-anchor="middle" style="font-family:'Liberation Sans',sans-serif">O</text>
<text x="341.40" y="98.64" font-size="9.0" fill="#1e1e1e" text-anchor="middle" style="font-family:'Liberation Sans',sans-serif">O</text>
<text x="322.30" y="98.64" font-size="9.0" fill="#1e1e1e" text-anchor="middle" style="font-family:'Liberation Sans',sans-serif">OH</text>
<text x="295.10" y="61.64" font-size="9.0" fill="#1e1e1e" text-anchor="middle" style="font-family:'Liberation Sans',sans-serif">HO</text>
<text x="319.40" y="44.14" font-size="9.0" fill="#1e1e1e" text-anchor="middle" style="font-family:'Liberation Sans',sans-serif">O</text>
<text x="292.10" y="19.84" font-size="9.0" fill="#1e1e1e" text-anchor="middle" style="font-family:'Liberation Sans',sans-serif">N</text>
<text x="281.60" y="31.34" font-size="9.0" fill="#1e1e1e" text-anchor="middle" style="font-family:'Liberation Sans',sans-serif">HN</text>
<text x="396.30" y="41.54" font-size="9.0" fill="#1e1e1e" text-anchor="middle" style="font-family:'Liberation Sans',sans-serif">N</text>
<text x="417.80" y="29.14" font-size="9.0" fill="#1e1e1e" text-anchor="middle" style="font-family:'Liberation Sans',sans-serif">N</text>
<text x="440.10" y="29.74" font-size="9.0" fill="#1e1e1e" text-anchor="middle" style="font-family:'Liberation Sans',sans-serif">N</text>
<g stroke="#1e1e1e" stroke-width="1.1" stroke-linecap="butt" fill="none">
<path d="M327.50,274.40 L338.10,280.50"/>
<path d="M328.15,277.43 L335.15,281.46"/>
<path d="M338.10,280.50 L338.10,292.70"/>
<path d="M338.10,292.70 L327.50,298.80"/>
<path d="M335.15,291.74 L328.15,295.77"/>
<path d="M327.50,298.80 L316.90,292.70"/>
<path d="M316.90,292.70 L316.90,280.50"/>
<path d="M319.20,290.63 L319.20,282.57"/>
<path d="M316.90,280.50 L327.50,274.40"/>
<path d="M338.10,280.50 L344.89,276.59"/>
<path d="M352.51,276.59 L359.30,280.50"/>
<path d="M359.30,280.50 L359.30,292.70"/>
<path d="M357.00,282.57 L357.00,290.63"/>
<path d="M359.30,292.70 L348.70,298.80"/>
<path d="M348.70,298.80 L338.10,292.70"/>
<path d="M347.50,298.82 L347.63,306.82 M349.90,298.78 L350.03,306.78"/>
<path d="M327.50,298.80 L327.37,306.80"/>
<path d="M316.90,280.50 L310.08,276.45"/>
<path d="M327.50,274.40 L327.50,266.00"/>
<path d="M323.68,259.41 L316.50,255.30"/>
<path d="M359.30,280.50 L371.47,274.85"/>
<path d="M382.30,256.10 L393.13,262.35"/>
<path d="M393.13,262.35 L393.13,274.85"/>
<path d="M390.83,264.48 L390.83,272.73"/>
<path d="M393.13,274.85 L382.30,281.10"/>
<path d="M382.30,281.10 L371.47,274.85"/>
<path d="M381.61,278.05 L374.46,273.92"/>
<path d="M371.47,274.85 L371.47,262.35"/>
<path d="M371.47,262.35 L382.30,256.10"/>
<path d="M374.46,263.28 L381.61,259.15"/>
<path d="M393.13,262.35 L400.85,257.60"/>
<path d="M404.17,250.92 L403.40,243.20"/>
<path d="M403.40,243.20 L412.90,234.50"/>
<path d="M412.90,234.50 L425.70,236.20"/>
<path d="M425.70,236.20 L429.40,242.59"/>
<path d="M430.69,250.70 L429.10,258.20"/>
<path d="M429.10,258.20 L415.70,263.00"/>
<path d="M415.70,263.00 L408.22,257.81"/>
</g>
<text x="348.70" y="277.64" font-size="9.0" fill="#1e1e1e" text-anchor="middle" style="font-family:'Liberation Sans',sans-serif">O</text>
<text x="348.90" y="314.44" font-size="9.0" fill="#1e1e1e" text-anchor="middle" style="font-family:'Liberation Sans',sans-serif">O</text>
<text x="330.40" y="314.44" font-size="9.0" fill="#1e1e1e" text-anchor="middle" style="font-family:'Liberation Sans',sans-serif">OH</text>
<text x="303.20" y="277.44" font-size="9.0" fill="#1e1e1e" text-anchor="middle" style="font-family:'Liberation Sans',sans-serif">HO</text>
<text x="327.50" y="264.84" font-size="9.0" fill="#1e1e1e" text-anchor="middle" style="font-family:'Liberation Sans',sans-serif">O</text>
<text x="404.60" y="258.54" font-size="9.0" fill="#1e1e1e" text-anchor="middle" style="font-family:'Liberation Sans',sans-serif">N</text>
<text x="434.70" y="249.64" font-size="9.0" fill="#1e1e1e" text-anchor="middle" style="font-family:'Liberation Sans',sans-serif">NH</text>
<text x="355.5" y="122.6" font-size="14.2" fill="#000" text-anchor="middle" style="font-family:'Liberation Serif',serif;font-weight:bold" >DC-U4106</text>
<text x="317.3" y="140" font-size="14.2" style="font-family:'Liberation Serif',serif;font-weight:bold">IC<tspan font-size="8.6" dy="5.2" letter-spacing="-0.3">50</tspan><tspan dy="-5.2">= 1.2μM</tspan></text>
<text x="321" y="157.1" font-size="14.2" style="font-family:'Liberation Serif',serif;font-weight:bold"><tspan font-style="italic">K</tspan><tspan font-size="9" dy="5" font-style="italic">D</tspan><tspan dy="-5">= 4.7 μM</tspan></text>
<text x="289.3" y="344.6" font-size="14.4" fill="#000" text-anchor="start" textLength="143.5" lengthAdjust="spacingAndGlyphs" style="font-family:'Liberation Serif',serif;font-weight:bold" >Leading compound 13a</text>
<text x="317.1" y="362.1" font-size="14.2" style="font-family:'Liberation Serif',serif;font-weight:bold">IC<tspan font-size="8.6" dy="5.2" letter-spacing="-0.3">50</tspan><tspan dy="-5.2">= 31.6 μM</tspan></text>
<text x="321.3" y="379.6" font-size="14.2" style="font-family:'Liberation Serif',serif;font-weight:bold"><tspan font-style="italic">K</tspan><tspan font-size="9" dy="5" font-style="italic">D</tspan><tspan dy="-5">= 43.6 μM</tspan></text>
<rect x="504.5" y="7.5" width="292" height="378.5" fill="none" stroke="#2a2a2a" stroke-width="1.5" stroke-dasharray="1.3 0.9"/>
<rect x="553.2" y="34.1" width="21.8" height="15.8" fill="none" stroke="#7a4d9e" stroke-width="1.4"/>
<path d="M559,41.7 l2.5,-1.2 l5.2,9.3 l3.2,-17.1" fill="none" stroke="#23946a" stroke-width="1.3"/>
<g transform="translate(584.6,46.9) scale(1,1.045)">
<text x="0" y="0" font-size="14.5" fill="#4e1a72" text-anchor="start" textLength="125.80000000000001" lengthAdjust="spacingAndGlyphs" style="font-family:'Liberation Serif',serif;font-weight:bold" >Binding and efficacy</text>
</g>
<rect x="553.2" y="56.7" width="21.8" height="15.8" fill="none" stroke="#7a4d9e" stroke-width="1.4"/>
<path d="M559,64.3 l2.5,-1.2 l5.2,9.3 l3.2,-17.1" fill="none" stroke="#23946a" stroke-width="1.3"/>
<g transform="translate(584.6,69.1) scale(1,1.045)">
<text x="0" y="0" font-size="14.5" fill="#4e1a72" text-anchor="start" textLength="93.30000000000001" lengthAdjust="spacingAndGlyphs" style="font-family:'Liberation Serif',serif;font-weight:bold" >High selectivity</text>
</g>
<rect x="553.2" y="78.8" width="21.8" height="15.8" fill="none" stroke="#7a4d9e" stroke-width="1.4"/>
<path d="M559,86.39999999999999 l2.5,-1.2 l5.2,9.3 l3.2,-17.1" fill="none" stroke="#23946a" stroke-width="1.3"/>
<g transform="translate(585.3,91.6) scale(1,1.045)">
<text x="0" y="0" font-size="14.5" fill="#4e1a72" text-anchor="start" textLength="155.8" lengthAdjust="spacingAndGlyphs" style="font-family:'Liberation Serif',serif;font-weight:bold" >ERα and PR degradation</text>
</g>
<rect x="553.2" y="99.7" width="21.8" height="15.8" fill="none" stroke="#7a4d9e" stroke-width="1.4"/>
<path d="M559,107.3 l2.5,-1.2 l5.2,9.3 l3.2,-17.1" fill="none" stroke="#23946a" stroke-width="1.3"/>
<g transform="translate(584.6,112.1) scale(1,1.045)">
<text x="0" y="0" font-size="14.5" fill="#4e1a72" text-anchor="start" textLength="171.1" lengthAdjust="spacingAndGlyphs" style="font-family:'Liberation Serif',serif;font-weight:bold" >Powerful anti-tumor in vivo</text>
</g>
<rect x="553.2" y="120.7" width="21.8" height="15.8" fill="none" stroke="#7a4d9e" stroke-width="1.4"/>
<path d="M559,128.3 l2.5,-1.2 l5.2,9.3 l3.2,-17.1" fill="none" stroke="#23946a" stroke-width="1.3"/>
<g transform="translate(584.6,133.1) scale(1,1.045)">
<text x="0" y="0" font-size="14.5" fill="#4e1a72" text-anchor="start" textLength="75.5" lengthAdjust="spacingAndGlyphs" style="font-family:'Liberation Serif',serif;font-weight:bold" >Low toxicity</text>
</g>
<g stroke="#000" stroke-width="1.5" fill="none">
<path d="M556.8,197.3 V338 M556.1,337.3 H768.5"/>
<path d="M552.8,337.30 H556.8"/>
<path d="M552.8,309.30 H556.8"/>
<path d="M552.8,281.30 H556.8"/>
<path d="M552.8,253.30 H556.8"/>
<path d="M552.8,225.30 H556.8"/>
<path d="M552.8,197.30 H556.8"/>
<path d="M557.00,337.3 V341.6"/>
<path d="M572.05,337.3 V341.6"/>
<path d="M587.10,337.3 V341.6"/>
<path d="M602.15,337.3 V341.6"/>
<path d="M617.20,337.3 V341.6"/>
<path d="M632.25,337.3 V341.6"/>
<path d="M647.30,337.3 V341.6"/>
<path d="M662.35,337.3 V341.6"/>
<path d="M677.40,337.3 V341.6"/>
<path d="M692.45,337.3 V341.6"/>
<path d="M707.50,337.3 V341.6"/>
<path d="M722.55,337.3 V341.6"/>
<path d="M737.60,337.3 V341.6"/>
<path d="M752.65,337.3 V341.6"/>
<path d="M767.70,337.3 V341.6"/>
</g>
<text x="550.6" y="340.90" font-size="10.8" text-anchor="end" style="font-family:'Liberation Serif',serif;font-weight:bold">0</text>
<text x="550.6" y="312.90" font-size="10.8" text-anchor="end" style="font-family:'Liberation Serif',serif;font-weight:bold">200</text>
<text x="550.6" y="284.90" font-size="10.8" text-anchor="end" style="font-family:'Liberation Serif',serif;font-weight:bold">400</text>
<text x="550.6" y="256.90" font-size="10.8" text-anchor="end" style="font-family:'Liberation Serif',serif;font-weight:bold">600</text>
<text x="550.6" y="228.90" font-size="10.8" text-anchor="end" style="font-family:'Liberation Serif',serif;font-weight:bold">800</text>
<text x="550.6" y="200.90" font-size="10.8" text-anchor="end" style="font-family:'Liberation Serif',serif;font-weight:bold">1000</text>
<text x="557.00" y="353.2" font-size="11" text-anchor="middle" style="font-family:'Liberation Serif',serif;font-weight:bold">0</text>
<text x="572.05" y="353.2" font-size="11" text-anchor="middle" style="font-family:'Liberation Serif',serif;font-weight:bold">1</text>
<text x="587.10" y="353.2" font-size="11" text-anchor="middle" style="font-family:'Liberation Serif',serif;font-weight:bold">2</text>
<text x="602.15" y="353.2" font-size="11" text-anchor="middle" style="font-family:'Liberation Serif',serif;font-weight:bold">3</text>
<text x="617.20" y="353.2" font-size="11" text-anchor="middle" style="font-family:'Liberation Serif',serif;font-weight:bold">4</text>
<text x="632.25" y="353.2" font-size="11" text-anchor="middle" style="font-family:'Liberation Serif',serif;font-weight:bold">5</text>
<text x="647.30" y="353.2" font-size="11" text-anchor="middle" style="font-family:'Liberation Serif',serif;font-weight:bold">6</text>
<text x="662.35" y="353.2" font-size="11" text-anchor="middle" style="font-family:'Liberation Serif',serif;font-weight:bold">7</text>
<text x="677.40" y="353.2" font-size="11" text-anchor="middle" style="font-family:'Liberation Serif',serif;font-weight:bold">8</text>
<text x="692.45" y="353.2" font-size="11" text-anchor="middle" style="font-family:'Liberation Serif',serif;font-weight:bold">9</text>
<text x="707.50" y="353.2" font-size="11" text-anchor="middle" style="font-family:'Liberation Serif',serif;font-weight:bold">10</text>
<text x="722.55" y="353.2" font-size="11" text-anchor="middle" style="font-family:'Liberation Serif',serif;font-weight:bold">11</text>
<text x="737.60" y="353.2" font-size="11" text-anchor="middle" style="font-family:'Liberation Serif',serif;font-weight:bold">12</text>
<text x="752.65" y="353.2" font-size="11" text-anchor="middle" style="font-family:'Liberation Serif',serif;font-weight:bold">13</text>
<text x="767.70" y="353.2" font-size="11" text-anchor="middle" style="font-family:'Liberation Serif',serif;font-weight:bold">14</text>
<text x="629.8" y="371.5" font-size="12" style="font-family:'Liberation Serif',serif;font-weight:bold" textLength="54" lengthAdjust="spacingAndGlyphs">Time (day)</text>
<text transform="translate(522.6,324) rotate(-90)" font-size="11.6" style="font-family:'Liberation Serif',serif;font-weight:bold;white-space:pre">Tumor volume  (mm<tspan font-size="7" dy="-4.5">3</tspan><tspan dy="4.5">)</tspan></text>
<g stroke="#000" stroke-width="1.3" fill="none">
<path d="M572.05,322.46 V324.14 M569.05,322.46 h6 M569.05,324.14 h6"/>
<path d="M587.10,321.06 V322.74 M584.10,321.06 h6 M584.10,322.74 h6"/>
<path d="M602.15,318.26 V320.50 M599.15,318.26 h6 M599.15,320.50 h6"/>
<path d="M617.20,313.22 V316.02 M614.20,313.22 h6 M614.20,316.02 h6"/>
<path d="M632.25,307.90 V311.82 M629.25,307.90 h6 M629.25,311.82 h6"/>
<path d="M647.30,301.18 V306.22 M644.30,301.18 h6 M644.30,306.22 h6"/>
<path d="M662.35,292.08 V299.92 M659.35,292.08 h6 M659.35,299.92 h6"/>
<path d="M677.40,281.16 V294.04 M674.40,281.16 h6 M674.40,294.04 h6"/>
<path d="M692.45,270.52 V286.48 M689.45,270.52 h6 M689.45,286.48 h6"/>
<path d="M707.50,261.98 V280.46 M704.50,261.98 h6 M704.50,280.46 h6"/>
<path d="M722.55,248.82 V268.98 M719.55,248.82 h6 M719.55,268.98 h6"/>
<path d="M737.60,240.84 V250.36 M734.60,240.84 h6 M734.60,250.36 h6"/>
<path d="M752.65,222.64 V243.36 M749.65,222.64 h6 M749.65,243.36 h6"/>
<path d="M767.70,206.12 V240.28 M764.70,206.12 h6 M764.70,240.28 h6"/>
<polyline points="572.05,323.30 587.10,321.90 602.15,319.38 617.20,314.62 632.25,309.86 647.30,303.70 662.35,296.00 677.40,287.60 692.45,278.50 707.50,271.22 722.55,258.90 737.60,245.60 752.65,233.00 767.70,223.20" stroke-width="1.5"/>
</g>
<circle cx="572.05" cy="323.30" r="3.6" fill="#000"/>
<circle cx="587.10" cy="321.90" r="3.6" fill="#000"/>
<circle cx="602.15" cy="319.38" r="3.6" fill="#000"/>
<circle cx="617.20" cy="314.62" r="3.6" fill="#000"/>
<circle cx="632.25" cy="309.86" r="3.6" fill="#000"/>
<circle cx="647.30" cy="303.70" r="3.6" fill="#000"/>
<circle cx="662.35" cy="296.00" r="3.6" fill="#000"/>
<circle cx="677.40" cy="287.60" r="3.6" fill="#000"/>
<circle cx="692.45" cy="278.50" r="3.6" fill="#000"/>
<circle cx="707.50" cy="271.22" r="3.6" fill="#000"/>
<circle cx="722.55" cy="258.90" r="3.6" fill="#000"/>
<circle cx="737.60" cy="245.60" r="3.6" fill="#000"/>
<circle cx="752.65" cy="233.00" r="3.6" fill="#000"/>
<circle cx="767.70" cy="223.20" r="3.6" fill="#000"/>
<g stroke="#f00" stroke-width="1.3" fill="none">
<path d="M572.05,322.60 V324.00 M569.05,322.60 h6 M569.05,324.00 h6"/>
<path d="M587.10,321.20 V322.60 M584.10,321.20 h6 M584.10,322.60 h6"/>
<path d="M602.15,318.96 V320.64 M599.15,318.96 h6 M599.15,320.64 h6"/>
<path d="M617.20,315.18 V317.42 M614.20,315.18 h6 M614.20,317.42 h6"/>
<path d="M632.25,310.98 V313.78 M629.25,310.98 h6 M629.25,313.78 h6"/>
<path d="M647.30,306.92 V310.28 M644.30,306.92 h6 M644.30,310.28 h6"/>
<path d="M662.35,300.76 V305.24 M659.35,300.76 h6 M659.35,305.24 h6"/>
<path d="M677.40,296.70 V302.30 M674.40,296.70 h6 M674.40,302.30 h6"/>
<path d="M692.45,290.68 V297.68 M689.45,290.68 h6 M689.45,297.68 h6"/>
<path d="M707.50,286.20 V294.60 M704.50,286.20 h6 M704.50,294.60 h6"/>
<path d="M722.55,276.54 V286.62 M719.55,276.54 h6 M719.55,286.62 h6"/>
<path d="M737.60,264.78 V279.62 M734.60,264.78 h6 M734.60,279.62 h6"/>
<path d="M752.65,262.26 V269.26 M749.65,262.26 h6 M749.65,269.26 h6"/>
<path d="M767.70,253.58 V262.82 M764.70,253.58 h6 M764.70,262.82 h6"/>
<polyline points="572.05,323.30 587.10,321.90 602.15,319.80 617.20,316.30 632.25,312.38 647.30,308.60 662.35,303.00 677.40,299.50 692.45,294.18 707.50,290.40 722.55,281.58 737.60,272.20 752.65,265.76 767.70,258.20" stroke-width="1.5"/>
</g>
<rect x="568.55" y="319.80" width="7" height="7" fill="#f00"/>
<rect x="583.60" y="318.40" width="7" height="7" fill="#f00"/>
<rect x="598.65" y="316.30" width="7" height="7" fill="#f00"/>
<rect x="613.70" y="312.80" width="7" height="7" fill="#f00"/>
<rect x="628.75" y="308.88" width="7" height="7" fill="#f00"/>
<rect x="643.80" y="305.10" width="7" height="7" fill="#f00"/>
<rect x="658.85" y="299.50" width="7" height="7" fill="#f00"/>
<rect x="673.90" y="296.00" width="7" height="7" fill="#f00"/>
<rect x="688.95" y="290.68" width="7" height="7" fill="#f00"/>
<rect x="704.00" y="286.90" width="7" height="7" fill="#f00"/>
<rect x="719.05" y="278.08" width="7" height="7" fill="#f00"/>
<rect x="734.10" y="268.70" width="7" height="7" fill="#f00"/>
<rect x="749.15" y="262.26" width="7" height="7" fill="#f00"/>
<rect x="764.20" y="254.70" width="7" height="7" fill="#f00"/>
<g stroke="#00f" stroke-width="1.3" fill="none">
<path d="M572.05,323.30 V324.70 M569.05,323.30 h6 M569.05,324.70 h6"/>
<path d="M587.10,321.62 V323.02 M584.10,321.62 h6 M584.10,323.02 h6"/>
<path d="M602.15,319.38 V321.06 M599.15,319.38 h6 M599.15,321.06 h6"/>
<path d="M617.20,317.56 V319.80 M614.20,317.56 h6 M614.20,319.80 h6"/>
<path d="M632.25,315.18 V317.42 M629.25,315.18 h6 M629.25,317.42 h6"/>
<path d="M647.30,312.38 V315.18 M644.30,312.38 h6 M644.30,315.18 h6"/>
<path d="M662.35,309.30 V312.66 M659.35,309.30 h6 M659.35,312.66 h6"/>
<path d="M677.40,306.64 V310.56 M674.40,306.64 h6 M674.40,310.56 h6"/>
<path d="M692.45,303.98 V308.46 M689.45,303.98 h6 M689.45,308.46 h6"/>
<path d="M707.50,301.04 V306.08 M704.50,301.04 h6 M704.50,306.08 h6"/>
<path d="M722.55,296.14 V302.30 M719.55,296.14 h6 M719.55,302.30 h6"/>
<path d="M737.60,293.62 V299.78 M734.60,293.62 h6 M734.60,299.78 h6"/>
<path d="M752.65,278.50 V301.46 M749.65,278.50 h6 M749.65,301.46 h6"/>
<path d="M767.70,278.64 V295.44 M764.70,278.64 h6 M764.70,295.44 h6"/>
<polyline points="572.05,324.00 587.10,322.32 602.15,320.22 617.20,318.68 632.25,316.30 647.30,313.78 662.35,310.98 677.40,308.60 692.45,306.22 707.50,303.56 722.55,299.22 737.60,296.70 752.65,289.98 767.70,287.04" stroke-width="1.5"/>
</g>
<path d="M572.05,319.80 l4,7 h-8z" fill="#00f"/>
<path d="M587.10,318.12 l4,7 h-8z" fill="#00f"/>
<path d="M602.15,316.02 l4,7 h-8z" fill="#00f"/>
<path d="M617.20,314.48 l4,7 h-8z" fill="#00f"/>
<path d="M632.25,312.10 l4,7 h-8z" fill="#00f"/>
<path d="M647.30,309.58 l4,7 h-8z" fill="#00f"/>
<path d="M662.35,306.78 l4,7 h-8z" fill="#00f"/>
<path d="M677.40,304.40 l4,7 h-8z" fill="#00f"/>
<path d="M692.45,302.02 l4,7 h-8z" fill="#00f"/>
<path d="M707.50,299.36 l4,7 h-8z" fill="#00f"/>
<path d="M722.55,295.02 l4,7 h-8z" fill="#00f"/>
<path d="M737.60,292.50 l4,7 h-8z" fill="#00f"/>
<path d="M752.65,285.78 l4,7 h-8z" fill="#00f"/>
<path d="M767.70,282.84 l4,7 h-8z" fill="#00f"/>
<g stroke="#2f2" stroke-width="1.3" fill="none">
<path d="M572.05,322.60 V324.00 M569.05,322.60 h6 M569.05,324.00 h6"/>
<path d="M587.10,321.20 V322.60 M584.10,321.20 h6 M584.10,322.60 h6"/>
<path d="M602.15,319.10 V320.78 M599.15,319.10 h6 M599.15,320.78 h6"/>
<path d="M617.20,315.60 V317.84 M614.20,315.60 h6 M614.20,317.84 h6"/>
<path d="M632.25,312.38 V315.18 M629.25,312.38 h6 M629.25,315.18 h6"/>
<path d="M647.30,308.74 V312.10 M644.30,308.74 h6 M644.30,312.10 h6"/>
<path d="M662.35,304.82 V308.74 M659.35,304.82 h6 M659.35,308.74 h6"/>
<path d="M677.40,300.06 V304.54 M674.40,300.06 h6 M674.40,304.54 h6"/>
<path d="M692.45,295.86 V301.46 M689.45,295.86 h6 M689.45,301.46 h6"/>
<path d="M707.50,290.54 V296.70 M704.50,290.54 h6 M704.50,296.70 h6"/>
<path d="M722.55,288.16 V295.44 M719.55,288.16 h6 M719.55,295.44 h6"/>
<path d="M737.60,285.64 V292.36 M734.60,285.64 h6 M734.60,292.36 h6"/>
<path d="M752.65,278.08 V286.48 M749.65,278.08 h6 M749.65,286.48 h6"/>
<path d="M767.70,271.50 V281.30 M764.70,271.50 h6 M764.70,281.30 h6"/>
<polyline points="572.05,323.30 587.10,321.90 602.15,319.94 617.20,316.72 632.25,313.78 647.30,310.42 662.35,306.78 677.40,302.30 692.45,298.66 707.50,293.62 722.55,291.80 737.60,289.00 752.65,282.28 767.70,276.40" stroke-width="1.5"/>
</g>
<path d="M572.05,327.50 l4,-7 h-8z" fill="#2f2"/>
<path d="M587.10,326.10 l4,-7 h-8z" fill="#2f2"/>
<path d="M602.15,324.14 l4,-7 h-8z" fill="#2f2"/>
<path d="M617.20,320.92 l4,-7 h-8z" fill="#2f2"/>
<path d="M632.25,317.98 l4,-7 h-8z" fill="#2f2"/>
<path d="M647.30,314.62 l4,-7 h-8z" fill="#2f2"/>
<path d="M662.35,310.98 l4,-7 h-8z" fill="#2f2"/>
<path d="M677.40,306.50 l4,-7 h-8z" fill="#2f2"/>
<path d="M692.45,302.86 l4,-7 h-8z" fill="#2f2"/>
<path d="M707.50,297.82 l4,-7 h-8z" fill="#2f2"/>
<path d="M722.55,296.00 l4,-7 h-8z" fill="#2f2"/>
<path d="M737.60,293.20 l4,-7 h-8z" fill="#2f2"/>
<path d="M752.65,286.48 l4,-7 h-8z" fill="#2f2"/>
<path d="M767.70,280.60 l4,-7 h-8z" fill="#2f2"/>
<path d="M563.2,196.3 H578.4" stroke="#000" stroke-width="1.5"/>
<circle cx="570.80" cy="196.30" r="3.6" fill="#000"/>
<text x="587.3" y="199.5" font-size="11.4" style="font-family:'Liberation Serif',serif;font-weight:bold">Control</text>
<path d="M563.2,211 H578.4" stroke="#f00" stroke-width="1.5"/>
<rect x="567.30" y="207.50" width="7" height="7" fill="#f00"/>
<text x="587.3" y="214.8" font-size="11.4" style="font-family:'Liberation Serif',serif;font-weight:bold">DC-U4106 5mg/kg</text>
<path d="M563.2,226.6 H578.4" stroke="#00f" stroke-width="1.5"/>
<path d="M570.80,222.40 l4,7 h-8z" fill="#00f"/>
<text x="587.3" y="229.8" font-size="11.4" style="font-family:'Liberation Serif',serif;font-weight:bold">DC-U4106 20mg/kg</text>
<path d="M563.2,242.6 H578.4" stroke="#2f2" stroke-width="1.5"/>
<path d="M570.80,246.80 l4,-7 h-8z" fill="#2f2"/>
<text x="587.3" y="246.3" font-size="11.4" style="font-family:'Liberation Serif',serif;font-weight:bold">Tamoxifen 20mg/kg</text>
<g stroke="#000" stroke-width="1.3" fill="none">
<path d="M690.4,193.5 H694.4 V207.3 H690.4"/>
<path d="M690.4,211.5 H694.4 V225.2 H690.4"/>
<path d="M702,193.2 H707.1 V224.9 H702"/>
<path d="M712.5,192.7 H716.2 V242.3 H712.5"/>
</g>
<path d="M698.60,194.40 L698.60,197.80 M700.07,195.25 L697.13,196.95 M700.07,196.95 L697.13,195.25 M698.60,199.00 L698.60,202.40 M700.07,199.85 L697.13,201.55 M700.07,201.55 L697.13,199.85 M698.60,211.50 L698.60,214.90 M700.07,212.35 L697.13,214.05 M700.07,214.05 L697.13,212.35 M698.60,216.10 L698.60,219.50 M700.07,216.95 L697.13,218.65 M700.07,218.65 L697.13,216.95 M710.50,201.10 L710.50,204.50 M711.97,201.95 L709.03,203.65 M711.97,203.65 L709.03,201.95 M710.50,205.70 L710.50,209.10 M711.97,206.55 L709.03,208.25 M711.97,208.25 L709.03,206.55 M723.90,210.80 L723.90,214.20 M725.37,211.65 L722.43,213.35 M725.37,213.35 L722.43,211.65 M723.90,215.40 L723.90,218.80 M725.37,216.25 L722.43,217.95 M725.37,217.95 L722.43,216.25 " stroke="#000" stroke-width="1.0" fill="none"/>
</svg>
</body></html>
